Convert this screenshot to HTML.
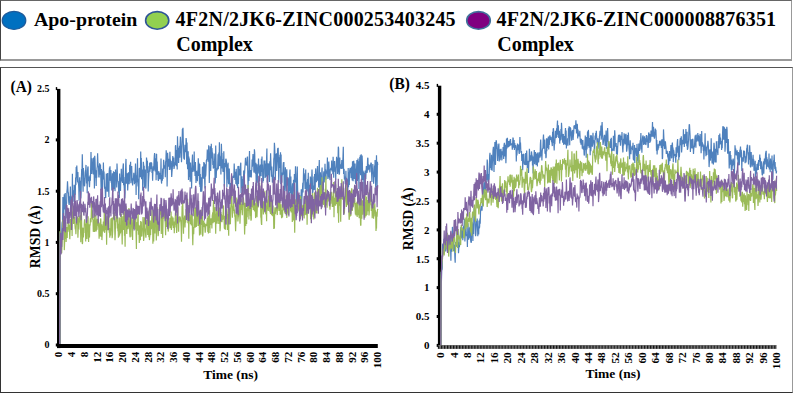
<!DOCTYPE html>
<html><head><meta charset="utf-8"><style>
html,body{margin:0;padding:0;background:#fff;width:793px;height:393px;overflow:hidden;position:relative}
.lg{position:absolute;left:0;top:0;width:792px;height:61px;box-sizing:border-box;border-top:1px solid #666;border-left:1px solid #444;border-right:1.5px solid #999;border-bottom:2px solid #999}
.fr{position:absolute;left:0;top:67px;width:793px;height:326px;box-sizing:border-box;border-top:1px solid #555;border-left:1px solid #333;border-right:1px solid #999;border-bottom:1px solid #333}
</style></head><body>
<div class="lg"></div><div class="fr"></div>
<svg width="793" height="393" viewBox="0 0 793 393" style="position:absolute;left:0;top:0">
<defs><pattern id="tk" x="441" y="0" width="3.03" height="10" patternUnits="userSpaceOnUse"><rect x="0" y="0" width="1.1" height="10" fill="#111"/></pattern></defs>
<ellipse cx="14" cy="20.4" rx="11.8" ry="9.1" fill="#0070C0" stroke="#1F5A9A" stroke-width="1.2"/>
<ellipse cx="157.2" cy="20.4" rx="11.6" ry="8.8" fill="#92D050" stroke="#2F5597" stroke-width="1.6"/>
<ellipse cx="478.5" cy="20.4" rx="11.8" ry="8.8" fill="#800080" stroke="#41719C" stroke-width="1.6"/>
<text font-family="&apos;Liberation Serif&apos;, serif" font-weight="bold" font-size="19.85" x="34" y="25.9">Apo-protein</text>
<text font-family="&apos;Liberation Serif&apos;, serif" font-weight="bold" font-size="20" x="175.6" y="25.9" textLength="280" lengthAdjust="spacing">4F2N/2JK6-ZINC000253403245</text>
<text font-family="&apos;Liberation Serif&apos;, serif" font-weight="bold" font-size="20" x="176.2" y="50.6">Complex</text>
<text font-family="&apos;Liberation Serif&apos;, serif" font-weight="bold" font-size="20" x="496.6" y="25.9" textLength="279.5" lengthAdjust="spacing">4F2N/2JK6-ZINC000008876351</text>
<text font-family="&apos;Liberation Serif&apos;, serif" font-weight="bold" font-size="20" x="497.2" y="50.6">Complex</text>
<text font-family="&apos;Liberation Serif&apos;, serif" font-weight="bold" font-size="15.4" transform="translate(10.5,91.8) scale(1,1.06)">(A)</text>
<rect x="57.0" y="88.9" width="3.4" height="259.2" fill="#000"/>
<rect x="55.8" y="343.5" width="1.4" height="3" fill="#000"/>
<text font-family="&apos;Liberation Serif&apos;, serif" font-weight="bold" font-size="10" x="49.5" y="348.4" text-anchor="end">0</text>
<rect x="55.8" y="292.2" width="1.4" height="3" fill="#000"/>
<text font-family="&apos;Liberation Serif&apos;, serif" font-weight="bold" font-size="10" x="49.5" y="297.1" text-anchor="end">0.5</text>
<rect x="55.8" y="240.9" width="1.4" height="3" fill="#000"/>
<text font-family="&apos;Liberation Serif&apos;, serif" font-weight="bold" font-size="10" x="49.5" y="245.8" text-anchor="end">1</text>
<rect x="55.8" y="189.7" width="1.4" height="3" fill="#000"/>
<text font-family="&apos;Liberation Serif&apos;, serif" font-weight="bold" font-size="10" x="49.5" y="194.6" text-anchor="end">1.5</text>
<rect x="55.8" y="138.4" width="1.4" height="3" fill="#000"/>
<text font-family="&apos;Liberation Serif&apos;, serif" font-weight="bold" font-size="10" x="49.5" y="143.3" text-anchor="end">2</text>
<rect x="55.8" y="87.1" width="1.4" height="3" fill="#000"/>
<text font-family="&apos;Liberation Serif&apos;, serif" font-weight="bold" font-size="10" x="49.5" y="92.0" text-anchor="end">2.5</text>
<text font-family="&apos;Liberation Serif&apos;, serif" font-weight="bold" font-size="11" text-anchor="end" dy="0.34em" transform="translate(58.7,351.8) rotate(-90)">0</text>
<text font-family="&apos;Liberation Serif&apos;, serif" font-weight="bold" font-size="11" text-anchor="end" dy="0.34em" transform="translate(71.4,351.8) rotate(-90)">4</text>
<text font-family="&apos;Liberation Serif&apos;, serif" font-weight="bold" font-size="11" text-anchor="end" dy="0.34em" transform="translate(84.2,351.8) rotate(-90)">8</text>
<text font-family="&apos;Liberation Serif&apos;, serif" font-weight="bold" font-size="11" text-anchor="end" dy="0.34em" transform="translate(96.9,351.8) rotate(-90)">12</text>
<text font-family="&apos;Liberation Serif&apos;, serif" font-weight="bold" font-size="11" text-anchor="end" dy="0.34em" transform="translate(109.7,351.8) rotate(-90)">16</text>
<text font-family="&apos;Liberation Serif&apos;, serif" font-weight="bold" font-size="11" text-anchor="end" dy="0.34em" transform="translate(122.4,351.8) rotate(-90)">20</text>
<text font-family="&apos;Liberation Serif&apos;, serif" font-weight="bold" font-size="11" text-anchor="end" dy="0.34em" transform="translate(135.2,351.8) rotate(-90)">24</text>
<text font-family="&apos;Liberation Serif&apos;, serif" font-weight="bold" font-size="11" text-anchor="end" dy="0.34em" transform="translate(147.9,351.8) rotate(-90)">28</text>
<text font-family="&apos;Liberation Serif&apos;, serif" font-weight="bold" font-size="11" text-anchor="end" dy="0.34em" transform="translate(160.7,351.8) rotate(-90)">32</text>
<text font-family="&apos;Liberation Serif&apos;, serif" font-weight="bold" font-size="11" text-anchor="end" dy="0.34em" transform="translate(173.4,351.8) rotate(-90)">36</text>
<text font-family="&apos;Liberation Serif&apos;, serif" font-weight="bold" font-size="11" text-anchor="end" dy="0.34em" transform="translate(186.2,351.8) rotate(-90)">40</text>
<text font-family="&apos;Liberation Serif&apos;, serif" font-weight="bold" font-size="11" text-anchor="end" dy="0.34em" transform="translate(198.9,351.8) rotate(-90)">44</text>
<text font-family="&apos;Liberation Serif&apos;, serif" font-weight="bold" font-size="11" text-anchor="end" dy="0.34em" transform="translate(211.7,351.8) rotate(-90)">48</text>
<text font-family="&apos;Liberation Serif&apos;, serif" font-weight="bold" font-size="11" text-anchor="end" dy="0.34em" transform="translate(224.4,351.8) rotate(-90)">52</text>
<text font-family="&apos;Liberation Serif&apos;, serif" font-weight="bold" font-size="11" text-anchor="end" dy="0.34em" transform="translate(237.2,351.8) rotate(-90)">56</text>
<text font-family="&apos;Liberation Serif&apos;, serif" font-weight="bold" font-size="11" text-anchor="end" dy="0.34em" transform="translate(249.9,351.8) rotate(-90)">60</text>
<text font-family="&apos;Liberation Serif&apos;, serif" font-weight="bold" font-size="11" text-anchor="end" dy="0.34em" transform="translate(262.7,351.8) rotate(-90)">64</text>
<text font-family="&apos;Liberation Serif&apos;, serif" font-weight="bold" font-size="11" text-anchor="end" dy="0.34em" transform="translate(275.4,351.8) rotate(-90)">68</text>
<text font-family="&apos;Liberation Serif&apos;, serif" font-weight="bold" font-size="11" text-anchor="end" dy="0.34em" transform="translate(288.2,351.8) rotate(-90)">72</text>
<text font-family="&apos;Liberation Serif&apos;, serif" font-weight="bold" font-size="11" text-anchor="end" dy="0.34em" transform="translate(300.9,351.8) rotate(-90)">76</text>
<text font-family="&apos;Liberation Serif&apos;, serif" font-weight="bold" font-size="11" text-anchor="end" dy="0.34em" transform="translate(313.7,351.8) rotate(-90)">80</text>
<text font-family="&apos;Liberation Serif&apos;, serif" font-weight="bold" font-size="11" text-anchor="end" dy="0.34em" transform="translate(326.4,351.8) rotate(-90)">84</text>
<text font-family="&apos;Liberation Serif&apos;, serif" font-weight="bold" font-size="11" text-anchor="end" dy="0.34em" transform="translate(339.2,351.8) rotate(-90)">88</text>
<text font-family="&apos;Liberation Serif&apos;, serif" font-weight="bold" font-size="11" text-anchor="end" dy="0.34em" transform="translate(351.9,351.8) rotate(-90)">92</text>
<text font-family="&apos;Liberation Serif&apos;, serif" font-weight="bold" font-size="11" text-anchor="end" dy="0.34em" transform="translate(364.7,351.8) rotate(-90)">96</text>
<text font-family="&apos;Liberation Serif&apos;, serif" font-weight="bold" font-size="11" text-anchor="end" dy="0.34em" transform="translate(377.4,351.8) rotate(-90)">100</text>
<text font-family="&apos;Liberation Serif&apos;, serif" font-weight="bold" font-size="13.7" text-anchor="middle" transform="translate(39.5,236.8) rotate(-90)">RMSD (Å)</text>
<text font-family="&apos;Liberation Serif&apos;, serif" font-weight="bold" font-size="13.5" x="203.2" y="378.7">Time (ns)</text>
<text font-family="&apos;Liberation Serif&apos;, serif" font-weight="bold" font-size="15.4" transform="translate(389.3,88.9) scale(1,1.06)">(B)</text>
<rect x="437.9" y="85.7" width="3.4" height="262.8" fill="#000"/>
<rect x="436.7" y="343.9" width="1.4" height="3" fill="#000"/>
<text font-family="&apos;Liberation Serif&apos;, serif" font-weight="bold" font-size="11" x="429.6" y="349.1" text-anchor="end">0</text>
<rect x="436.7" y="315.0" width="1.4" height="3" fill="#000"/>
<text font-family="&apos;Liberation Serif&apos;, serif" font-weight="bold" font-size="11" x="429.6" y="320.3" text-anchor="end">0.5</text>
<rect x="436.7" y="286.1" width="1.4" height="3" fill="#000"/>
<text font-family="&apos;Liberation Serif&apos;, serif" font-weight="bold" font-size="11" x="429.6" y="291.4" text-anchor="end">1</text>
<rect x="436.7" y="257.2" width="1.4" height="3" fill="#000"/>
<text font-family="&apos;Liberation Serif&apos;, serif" font-weight="bold" font-size="11" x="429.6" y="262.5" text-anchor="end">1.5</text>
<rect x="436.7" y="228.4" width="1.4" height="3" fill="#000"/>
<text font-family="&apos;Liberation Serif&apos;, serif" font-weight="bold" font-size="11" x="429.6" y="233.6" text-anchor="end">2</text>
<rect x="436.7" y="199.5" width="1.4" height="3" fill="#000"/>
<text font-family="&apos;Liberation Serif&apos;, serif" font-weight="bold" font-size="11" x="429.6" y="204.7" text-anchor="end">2.5</text>
<rect x="436.7" y="170.6" width="1.4" height="3" fill="#000"/>
<text font-family="&apos;Liberation Serif&apos;, serif" font-weight="bold" font-size="11" x="429.6" y="175.8" text-anchor="end">3</text>
<rect x="436.7" y="141.7" width="1.4" height="3" fill="#000"/>
<text font-family="&apos;Liberation Serif&apos;, serif" font-weight="bold" font-size="11" x="429.6" y="146.9" text-anchor="end">3.5</text>
<rect x="436.7" y="112.8" width="1.4" height="3" fill="#000"/>
<text font-family="&apos;Liberation Serif&apos;, serif" font-weight="bold" font-size="11" x="429.6" y="118.1" text-anchor="end">4</text>
<rect x="436.7" y="83.9" width="1.4" height="3" fill="#000"/>
<text font-family="&apos;Liberation Serif&apos;, serif" font-weight="bold" font-size="11" x="429.6" y="89.2" text-anchor="end">4.5</text>
<text font-family="&apos;Liberation Serif&apos;, serif" font-weight="bold" font-size="11.3" text-anchor="end" dy="0.34em" transform="translate(440.3,352.3) rotate(-90)">0</text>
<text font-family="&apos;Liberation Serif&apos;, serif" font-weight="bold" font-size="11.3" text-anchor="end" dy="0.34em" transform="translate(453.7,352.3) rotate(-90)">4</text>
<text font-family="&apos;Liberation Serif&apos;, serif" font-weight="bold" font-size="11.3" text-anchor="end" dy="0.34em" transform="translate(467.2,352.3) rotate(-90)">8</text>
<text font-family="&apos;Liberation Serif&apos;, serif" font-weight="bold" font-size="11.3" text-anchor="end" dy="0.34em" transform="translate(480.6,352.3) rotate(-90)">12</text>
<text font-family="&apos;Liberation Serif&apos;, serif" font-weight="bold" font-size="11.3" text-anchor="end" dy="0.34em" transform="translate(494.1,352.3) rotate(-90)">16</text>
<text font-family="&apos;Liberation Serif&apos;, serif" font-weight="bold" font-size="11.3" text-anchor="end" dy="0.34em" transform="translate(507.5,352.3) rotate(-90)">20</text>
<text font-family="&apos;Liberation Serif&apos;, serif" font-weight="bold" font-size="11.3" text-anchor="end" dy="0.34em" transform="translate(521.0,352.3) rotate(-90)">24</text>
<text font-family="&apos;Liberation Serif&apos;, serif" font-weight="bold" font-size="11.3" text-anchor="end" dy="0.34em" transform="translate(534.4,352.3) rotate(-90)">28</text>
<text font-family="&apos;Liberation Serif&apos;, serif" font-weight="bold" font-size="11.3" text-anchor="end" dy="0.34em" transform="translate(547.9,352.3) rotate(-90)">32</text>
<text font-family="&apos;Liberation Serif&apos;, serif" font-weight="bold" font-size="11.3" text-anchor="end" dy="0.34em" transform="translate(561.3,352.3) rotate(-90)">36</text>
<text font-family="&apos;Liberation Serif&apos;, serif" font-weight="bold" font-size="11.3" text-anchor="end" dy="0.34em" transform="translate(574.7,352.3) rotate(-90)">40</text>
<text font-family="&apos;Liberation Serif&apos;, serif" font-weight="bold" font-size="11.3" text-anchor="end" dy="0.34em" transform="translate(588.2,352.3) rotate(-90)">44</text>
<text font-family="&apos;Liberation Serif&apos;, serif" font-weight="bold" font-size="11.3" text-anchor="end" dy="0.34em" transform="translate(601.6,352.3) rotate(-90)">48</text>
<text font-family="&apos;Liberation Serif&apos;, serif" font-weight="bold" font-size="11.3" text-anchor="end" dy="0.34em" transform="translate(615.1,352.3) rotate(-90)">52</text>
<text font-family="&apos;Liberation Serif&apos;, serif" font-weight="bold" font-size="11.3" text-anchor="end" dy="0.34em" transform="translate(628.5,352.3) rotate(-90)">56</text>
<text font-family="&apos;Liberation Serif&apos;, serif" font-weight="bold" font-size="11.3" text-anchor="end" dy="0.34em" transform="translate(642.0,352.3) rotate(-90)">60</text>
<text font-family="&apos;Liberation Serif&apos;, serif" font-weight="bold" font-size="11.3" text-anchor="end" dy="0.34em" transform="translate(655.4,352.3) rotate(-90)">64</text>
<text font-family="&apos;Liberation Serif&apos;, serif" font-weight="bold" font-size="11.3" text-anchor="end" dy="0.34em" transform="translate(668.8,352.3) rotate(-90)">68</text>
<text font-family="&apos;Liberation Serif&apos;, serif" font-weight="bold" font-size="11.3" text-anchor="end" dy="0.34em" transform="translate(682.3,352.3) rotate(-90)">72</text>
<text font-family="&apos;Liberation Serif&apos;, serif" font-weight="bold" font-size="11.3" text-anchor="end" dy="0.34em" transform="translate(695.7,352.3) rotate(-90)">76</text>
<text font-family="&apos;Liberation Serif&apos;, serif" font-weight="bold" font-size="11.3" text-anchor="end" dy="0.34em" transform="translate(709.2,352.3) rotate(-90)">80</text>
<text font-family="&apos;Liberation Serif&apos;, serif" font-weight="bold" font-size="11.3" text-anchor="end" dy="0.34em" transform="translate(722.6,352.3) rotate(-90)">84</text>
<text font-family="&apos;Liberation Serif&apos;, serif" font-weight="bold" font-size="11.3" text-anchor="end" dy="0.34em" transform="translate(736.1,352.3) rotate(-90)">88</text>
<text font-family="&apos;Liberation Serif&apos;, serif" font-weight="bold" font-size="11.3" text-anchor="end" dy="0.34em" transform="translate(749.5,352.3) rotate(-90)">92</text>
<text font-family="&apos;Liberation Serif&apos;, serif" font-weight="bold" font-size="11.3" text-anchor="end" dy="0.34em" transform="translate(763.0,352.3) rotate(-90)">96</text>
<text font-family="&apos;Liberation Serif&apos;, serif" font-weight="bold" font-size="11.3" text-anchor="end" dy="0.34em" transform="translate(776.4,352.3) rotate(-90)">100</text>
<text font-family="&apos;Liberation Serif&apos;, serif" font-weight="bold" font-size="13.7" text-anchor="middle" transform="translate(412.5,218.8) rotate(-90)">RMSD (Å)</text>
<text font-family="&apos;Liberation Serif&apos;, serif" font-weight="bold" font-size="13.5" x="585.6" y="378.1">Time (ns)</text>
<polyline fill="none" stroke="#4F81BD" stroke-width="1.2" stroke-linejoin="bevel" points="59.7,345.0 60.0,231.9 60.3,234.1 60.6,235.4 60.9,240.5 61.1,245.5 61.4,235.7 61.7,232.7 62.0,223.8 62.3,221.7 62.6,222.4 62.9,196.9 63.2,206.2 63.5,198.7 63.8,216.4 64.0,201.4 64.3,194.4 64.6,197.4 64.9,209.6 65.2,193.1 65.5,204.6 65.8,215.0 66.1,218.3 66.4,203.6 66.6,203.7 66.9,191.8 67.2,188.7 67.5,181.3 67.8,187.1 68.1,192.2 68.4,193.5 68.7,201.4 69.0,204.3 69.2,204.9 69.5,196.2 69.8,203.1 70.1,198.0 70.4,186.4 70.7,213.2 71.0,206.3 71.3,205.3 71.6,196.6 71.9,206.1 72.1,201.9 72.4,173.7 72.7,197.1 73.0,193.0 73.3,190.3 73.6,193.5 73.9,201.7 74.2,184.8 74.5,204.9 74.7,201.6 75.0,194.5 75.3,194.7 75.6,177.6 75.9,185.1 76.2,166.9 76.5,177.7 76.8,165.6 77.1,172.2 77.4,180.0 77.6,182.2 77.9,171.9 78.2,183.5 78.5,182.6 78.8,188.4 79.1,200.7 79.4,182.6 79.7,177.2 80.0,191.5 80.2,180.7 80.5,183.6 80.8,198.4 81.1,193.4 81.4,177.6 81.7,169.0 82.0,172.8 82.3,154.2 82.6,168.5 82.8,181.9 83.1,191.7 83.4,167.9 83.7,177.5 84.0,179.0 84.3,184.7 84.6,186.3 84.9,182.0 85.2,172.9 85.5,170.4 85.7,170.0 86.0,164.9 86.3,175.9 86.6,183.5 86.9,176.5 87.2,193.2 87.5,171.1 87.8,167.4 88.1,166.5 88.3,180.4 88.6,181.0 88.9,176.4 89.2,183.9 89.5,187.3 89.8,180.5 90.1,175.2 90.4,180.7 90.7,166.5 91.0,151.9 91.2,162.1 91.5,171.4 91.8,173.9 92.1,158.2 92.4,164.6 92.7,165.1 93.0,167.2 93.3,174.6 93.6,157.5 93.8,168.3 94.1,168.8 94.4,188.4 94.7,155.7 95.0,159.2 95.3,168.7 95.6,177.0 95.9,178.1 96.2,186.1 96.4,170.3 96.7,177.7 97.0,168.4 97.3,166.5 97.6,153.2 97.9,162.9 98.2,166.2 98.5,166.1 98.8,177.3 99.1,177.0 99.3,171.9 99.6,163.3 99.9,165.1 100.2,174.7 100.5,164.6 100.8,176.7 101.1,190.3 101.4,169.1 101.7,177.3 101.9,184.2 102.2,193.3 102.5,190.4 102.8,170.5 103.1,179.6 103.4,162.4 103.7,177.0 104.0,171.4 104.3,179.5 104.5,187.0 104.8,188.8 105.1,186.8 105.4,195.6 105.7,198.1 106.0,184.9 106.3,173.6 106.6,180.3 106.9,182.8 107.2,191.7 107.4,176.0 107.7,173.1 108.0,191.5 108.3,185.7 108.6,186.7 108.9,196.9 109.2,172.0 109.5,167.5 109.8,173.4 110.0,166.2 110.3,180.8 110.6,178.7 110.9,170.1 111.2,182.7 111.5,179.1 111.8,190.5 112.1,180.9 112.4,173.3 112.7,188.5 112.9,191.7 113.2,185.9 113.5,171.3 113.8,183.8 114.1,189.3 114.4,184.3 114.7,172.0 115.0,191.1 115.3,184.3 115.5,169.6 115.8,176.8 116.1,181.0 116.4,172.8 116.7,187.6 117.0,163.6 117.3,170.7 117.6,181.6 117.9,181.3 118.1,181.1 118.4,184.2 118.7,192.8 119.0,187.1 119.3,197.9 119.6,173.4 119.9,188.9 120.2,190.1 120.5,190.9 120.8,177.6 121.0,181.8 121.3,168.8 121.6,181.0 121.9,178.5 122.2,179.5 122.5,182.9 122.8,170.6 123.1,165.9 123.4,163.4 123.6,185.2 123.9,177.0 124.2,187.5 124.5,191.5 124.8,198.5 125.1,193.3 125.4,176.8 125.7,165.0 126.0,158.9 126.3,178.7 126.5,183.7 126.8,176.6 127.1,174.7 127.4,173.3 127.7,190.6 128.0,182.1 128.3,173.0 128.6,172.4 128.9,177.5 129.1,184.2 129.4,180.4 129.7,164.7 130.0,170.9 130.3,167.6 130.6,161.7 130.9,183.3 131.2,173.4 131.5,172.4 131.7,166.0 132.0,177.5 132.3,181.3 132.6,185.5 132.9,178.3 133.2,180.3 133.5,178.3 133.8,172.7 134.1,177.2 134.4,184.2 134.6,181.4 134.9,182.8 135.2,173.5 135.5,163.6 135.8,173.5 136.1,195.1 136.4,176.4 136.7,175.4 137.0,182.3 137.2,177.2 137.5,158.2 137.8,182.4 138.1,186.5 138.4,178.8 138.7,199.2 139.0,187.2 139.3,168.7 139.6,168.0 139.9,169.8 140.1,176.7 140.4,177.0 140.7,151.4 141.0,164.4 141.3,158.1 141.6,179.3 141.9,172.3 142.2,169.6 142.5,171.6 142.7,190.8 143.0,181.9 143.3,161.8 143.6,164.2 143.9,176.6 144.2,165.8 144.5,187.8 144.8,172.4 145.1,169.6 145.3,176.6 145.6,182.1 145.9,188.6 146.2,177.9 146.5,157.5 146.8,160.5 147.1,165.2 147.4,160.7 147.7,173.0 148.0,166.2 148.2,191.6 148.5,181.4 148.8,176.6 149.1,171.7 149.4,170.1 149.7,162.8 150.0,171.7 150.3,162.3 150.6,169.3 150.8,162.6 151.1,168.5 151.4,162.3 151.7,163.5 152.0,172.9 152.3,168.8 152.6,180.7 152.9,172.0 153.2,166.4 153.5,170.4 153.7,170.0 154.0,161.8 154.3,156.1 154.6,153.1 154.9,168.8 155.2,171.5 155.5,162.6 155.8,158.2 156.1,180.3 156.3,154.3 156.6,153.9 156.9,174.7 157.2,161.5 157.5,171.2 157.8,171.2 158.1,179.1 158.4,181.0 158.7,177.7 158.9,171.2 159.2,179.1 159.5,172.7 159.8,176.9 160.1,176.4 160.4,179.3 160.7,178.4 161.0,158.6 161.3,180.4 161.6,183.6 161.8,175.7 162.1,175.7 162.4,180.7 162.7,168.5 163.0,179.0 163.3,171.5 163.6,159.7 163.9,162.2 164.2,168.5 164.4,168.0 164.7,167.7 165.0,165.3 165.3,177.2 165.6,161.8 165.9,160.6 166.2,150.3 166.5,156.2 166.8,155.3 167.1,186.4 167.3,176.6 167.6,152.7 167.9,158.4 168.2,166.8 168.5,158.7 168.8,162.7 169.1,160.9 169.4,170.1 169.7,162.0 169.9,151.8 170.2,159.8 170.5,159.9 170.8,169.7 171.1,161.0 171.4,166.9 171.7,177.0 172.0,172.0 172.3,168.8 172.5,161.0 172.8,156.1 173.1,163.7 173.4,166.4 173.7,157.4 174.0,169.0 174.3,167.0 174.6,163.8 174.9,162.4 175.2,165.1 175.4,146.2 175.7,145.3 176.0,154.2 176.3,166.2 176.6,161.5 176.9,149.9 177.2,169.6 177.5,136.2 177.8,148.9 178.0,152.2 178.3,147.8 178.6,163.1 178.9,155.3 179.2,152.5 179.5,145.7 179.8,157.7 180.1,145.1 180.4,136.7 180.6,141.0 180.9,149.3 181.2,153.6 181.5,162.3 181.8,154.3 182.1,141.7 182.4,129.0 182.7,129.1 183.0,127.8 183.3,141.7 183.5,147.3 183.8,158.8 184.1,155.2 184.4,159.8 184.7,153.1 185.0,144.7 185.3,149.2 185.6,152.2 185.9,145.8 186.1,138.0 186.4,140.5 186.7,164.3 187.0,142.4 187.3,156.5 187.6,169.2 187.9,164.3 188.2,151.3 188.5,180.1 188.8,156.6 189.0,159.7 189.3,158.6 189.6,176.8 189.9,176.0 190.2,181.7 190.5,162.6 190.8,174.2 191.1,167.8 191.4,175.9 191.6,188.5 191.9,169.3 192.2,160.6 192.5,154.6 192.8,171.4 193.1,171.4 193.4,165.5 193.7,167.8 194.0,170.1 194.2,151.4 194.5,171.4 194.8,165.7 195.1,176.0 195.4,162.0 195.7,172.4 196.0,183.0 196.3,170.8 196.6,173.6 196.9,177.9 197.1,177.7 197.4,181.3 197.7,171.1 198.0,169.8 198.3,158.2 198.6,176.0 198.9,162.7 199.2,167.0 199.5,184.4 199.7,163.9 200.0,186.9 200.3,174.0 200.6,191.7 200.9,178.0 201.2,178.5 201.5,177.3 201.8,191.7 202.1,185.7 202.4,168.0 202.6,166.5 202.9,172.4 203.2,173.5 203.5,178.8 203.8,162.1 204.1,169.8 204.4,162.7 204.7,182.0 205.0,188.5 205.2,164.3 205.5,176.7 205.8,174.6 206.1,167.3 206.4,160.5 206.7,159.3 207.0,159.6 207.3,149.5 207.6,158.5 207.8,155.2 208.1,161.6 208.4,160.9 208.7,145.2 209.0,158.4 209.3,182.9 209.6,167.4 209.9,163.2 210.2,146.3 210.5,159.4 210.7,171.0 211.0,162.0 211.3,143.8 211.6,158.6 211.9,148.0 212.2,152.6 212.5,152.8 212.8,165.1 213.1,161.0 213.3,168.6 213.6,162.4 213.9,168.0 214.2,153.6 214.5,164.2 214.8,164.8 215.1,183.4 215.4,179.0 215.7,145.5 216.0,161.8 216.2,178.0 216.5,170.4 216.8,169.3 217.1,170.5 217.4,168.2 217.7,167.4 218.0,154.2 218.3,169.3 218.6,161.4 218.8,152.6 219.1,166.2 219.4,142.3 219.7,155.9 220.0,161.4 220.3,166.0 220.6,156.3 220.9,174.6 221.2,163.0 221.4,143.7 221.7,154.8 222.0,153.1 222.3,168.6 222.6,159.2 222.9,171.3 223.2,171.6 223.5,168.1 223.8,151.2 224.1,168.4 224.3,186.4 224.6,173.0 224.9,163.9 225.2,163.4 225.5,167.1 225.8,158.7 226.1,159.5 226.4,161.1 226.7,174.0 226.9,187.1 227.2,164.2 227.5,179.4 227.8,165.0 228.1,162.7 228.4,182.7 228.7,184.1 229.0,175.8 229.3,168.6 229.6,183.2 229.8,182.9 230.1,189.8 230.4,193.5 230.7,182.9 231.0,184.3 231.3,199.7 231.6,182.1 231.9,183.4 232.2,182.8 232.4,191.6 232.7,176.6 233.0,176.6 233.3,175.8 233.6,178.0 233.9,175.6 234.2,163.4 234.5,171.7 234.8,173.1 235.0,180.1 235.3,171.7 235.6,177.3 235.9,184.0 236.2,168.9 236.5,175.7 236.8,184.7 237.1,185.4 237.4,182.5 237.7,188.1 237.9,166.2 238.2,166.5 238.5,183.9 238.8,166.1 239.1,174.5 239.4,170.2 239.7,175.4 240.0,169.5 240.3,169.3 240.5,165.0 240.8,162.7 241.1,193.3 241.4,184.3 241.7,176.7 242.0,176.3 242.3,187.9 242.6,183.2 242.9,179.1 243.2,192.7 243.4,187.0 243.7,170.6 244.0,178.3 244.3,175.5 244.6,172.8 244.9,167.2 245.2,164.0 245.5,157.8 245.8,162.5 246.0,163.3 246.3,165.1 246.6,163.5 246.9,165.6 247.2,157.4 247.5,156.6 247.8,175.6 248.1,188.7 248.4,170.5 248.6,171.8 248.9,181.1 249.2,161.9 249.5,150.9 249.8,172.0 250.1,177.2 250.4,175.7 250.7,175.9 251.0,170.1 251.3,177.5 251.5,170.4 251.8,170.6 252.1,159.4 252.4,166.6 252.7,160.3 253.0,154.0 253.3,161.5 253.6,163.1 253.9,172.6 254.1,170.0 254.4,149.3 254.7,152.5 255.0,165.3 255.3,173.0 255.6,173.4 255.9,162.7 256.2,186.9 256.5,175.3 256.8,185.8 257.0,164.3 257.3,182.7 257.6,167.4 257.9,173.6 258.2,172.8 258.5,158.6 258.8,168.8 259.1,165.9 259.4,168.2 259.6,181.5 259.9,175.0 260.2,164.6 260.5,166.5 260.8,167.7 261.1,176.3 261.4,158.8 261.7,172.0 262.0,156.4 262.2,166.8 262.5,164.6 262.8,182.7 263.1,173.7 263.4,181.1 263.7,173.3 264.0,160.5 264.3,163.1 264.6,165.9 264.9,160.5 265.1,178.0 265.4,171.6 265.7,176.9 266.0,163.6 266.3,176.5 266.6,157.6 266.9,148.5 267.2,182.5 267.5,175.6 267.7,186.0 268.0,163.2 268.3,175.3 268.6,165.5 268.9,163.5 269.2,173.7 269.5,181.9 269.8,161.2 270.1,170.1 270.3,165.4 270.6,153.3 270.9,163.0 271.2,168.6 271.5,176.7 271.8,166.5 272.1,174.3 272.4,182.4 272.7,176.0 273.0,175.4 273.2,182.9 273.5,173.0 273.8,159.0 274.1,157.0 274.4,142.8 274.7,147.2 275.0,157.2 275.3,180.3 275.6,166.4 275.8,154.1 276.1,164.9 276.4,153.2 276.7,171.0 277.0,166.1 277.3,159.6 277.6,148.3 277.9,161.2 278.2,147.7 278.5,165.2 278.7,182.7 279.0,174.4 279.3,157.3 279.6,168.1 279.9,154.8 280.2,167.1 280.5,152.2 280.8,183.9 281.1,154.5 281.3,184.4 281.6,175.7 281.9,182.7 282.2,172.5 282.5,174.7 282.8,174.6 283.1,166.4 283.4,162.3 283.7,172.4 283.9,162.1 284.2,186.4 284.5,188.5 284.8,191.0 285.1,175.8 285.4,167.2 285.7,177.2 286.0,183.7 286.3,191.3 286.6,176.2 286.8,169.2 287.1,182.4 287.4,183.4 287.7,185.6 288.0,182.8 288.3,177.5 288.6,200.8 288.9,192.8 289.2,179.1 289.4,191.3 289.7,174.7 290.0,169.5 290.3,188.9 290.6,193.2 290.9,176.5 291.2,198.3 291.5,200.6 291.8,206.5 292.1,193.9 292.3,186.7 292.6,183.4 292.9,185.1 293.2,199.2 293.5,179.8 293.8,186.7 294.1,191.3 294.4,173.9 294.7,181.6 294.9,182.5 295.2,178.1 295.5,166.3 295.8,180.9 296.1,179.5 296.4,207.3 296.7,203.5 297.0,174.9 297.3,166.5 297.5,183.6 297.8,196.0 298.1,204.2 298.4,205.9 298.7,200.4 299.0,210.8 299.3,198.9 299.6,195.0 299.9,204.1 300.2,207.9 300.4,207.6 300.7,202.1 301.0,198.3 301.3,189.3 301.6,208.2 301.9,199.3 302.2,193.1 302.5,188.7 302.8,182.9 303.0,192.5 303.3,181.9 303.6,168.2 303.9,180.2 304.2,173.3 304.5,176.7 304.8,181.8 305.1,188.9 305.4,186.9 305.7,169.5 305.9,181.4 306.2,192.5 306.5,193.6 306.8,182.2 307.1,191.4 307.4,181.2 307.7,179.2 308.0,183.1 308.3,172.8 308.5,197.2 308.8,195.8 309.1,192.1 309.4,184.8 309.7,198.9 310.0,194.7 310.3,176.4 310.6,186.8 310.9,177.6 311.1,184.1 311.4,189.2 311.7,179.3 312.0,169.5 312.3,179.4 312.6,192.9 312.9,191.5 313.2,188.1 313.5,185.5 313.8,190.1 314.0,176.5 314.3,188.0 314.6,174.1 314.9,188.2 315.2,190.1 315.5,172.0 315.8,168.4 316.1,177.1 316.4,182.3 316.6,180.1 316.9,176.6 317.2,174.3 317.5,166.0 317.8,180.8 318.1,176.4 318.4,175.2 318.7,187.5 319.0,169.3 319.3,159.9 319.5,171.9 319.8,191.9 320.1,189.3 320.4,172.3 320.7,193.7 321.0,201.1 321.3,189.6 321.6,176.8 321.9,170.3 322.1,167.5 322.4,197.4 322.7,188.8 323.0,190.1 323.3,189.3 323.6,173.8 323.9,171.4 324.2,182.4 324.5,176.9 324.7,175.1 325.0,163.7 325.3,176.7 325.6,169.3 325.9,179.7 326.2,172.6 326.5,173.7 326.8,170.6 327.1,171.4 327.4,157.5 327.6,173.7 327.9,178.9 328.2,177.5 328.5,167.2 328.8,161.6 329.1,168.3 329.4,176.7 329.7,177.7 330.0,180.1 330.2,169.2 330.5,170.5 330.8,167.8 331.1,169.3 331.4,169.5 331.7,160.5 332.0,171.4 332.3,167.4 332.6,165.4 332.9,174.3 333.1,156.7 333.4,163.8 333.7,177.7 334.0,164.1 334.3,163.6 334.6,161.1 334.9,167.8 335.2,171.9 335.5,168.2 335.7,179.4 336.0,168.7 336.3,165.7 336.6,156.7 336.9,163.5 337.2,158.2 337.5,173.9 337.8,171.7 338.1,157.4 338.3,146.7 338.6,148.3 338.9,170.6 339.2,174.6 339.5,173.3 339.8,157.5 340.1,168.4 340.4,165.9 340.7,164.7 341.0,164.3 341.2,169.0 341.5,166.2 341.8,160.1 342.1,164.9 342.4,168.8 342.7,163.3 343.0,156.5 343.3,146.8 343.6,174.0 343.8,169.1 344.1,168.9 344.4,179.6 344.7,176.5 345.0,179.1 345.3,184.3 345.6,182.1 345.9,170.7 346.2,181.8 346.4,180.8 346.7,178.5 347.0,184.2 347.3,187.6 347.6,194.1 347.9,188.6 348.2,168.0 348.5,187.3 348.8,172.3 349.1,182.9 349.3,185.1 349.6,171.0 349.9,169.0 350.2,168.0 350.5,173.1 350.8,167.8 351.1,178.1 351.4,173.7 351.7,166.4 351.9,172.3 352.2,180.4 352.5,161.3 352.8,171.9 353.1,181.3 353.4,170.3 353.7,160.7 354.0,164.2 354.3,178.9 354.6,170.9 354.8,167.6 355.1,163.4 355.4,180.9 355.7,184.1 356.0,172.3 356.3,170.7 356.6,167.2 356.9,159.9 357.2,178.0 357.4,180.9 357.7,177.2 358.0,158.6 358.3,167.9 358.6,161.2 358.9,189.1 359.2,175.5 359.5,164.7 359.8,157.1 360.0,173.2 360.3,155.3 360.6,175.3 360.9,160.4 361.2,154.3 361.5,167.0 361.8,182.6 362.1,155.6 362.4,163.4 362.7,179.9 362.9,170.4 363.2,179.6 363.5,171.5 363.8,180.6 364.1,193.5 364.4,173.0 364.7,177.3 365.0,173.1 365.3,170.5 365.5,171.9 365.8,179.2 366.1,170.8 366.4,166.1 366.7,167.9 367.0,173.0 367.3,171.1 367.6,158.6 367.9,157.8 368.2,170.1 368.4,165.6 368.7,164.7 369.0,164.9 369.3,169.2 369.6,167.6 369.9,172.4 370.2,165.2 370.5,165.3 370.8,163.8 371.0,162.7 371.3,163.3 371.6,173.7 371.9,182.0 372.2,171.6 372.5,173.6 372.8,163.9 373.1,172.0 373.4,174.4 373.6,183.7 373.9,175.9 374.2,177.3 374.5,165.5 374.8,170.8 375.1,160.0 375.4,176.2 375.7,187.8 376.0,165.5 376.3,164.5 376.5,155.2 376.8,172.0 377.1,186.0 377.4,161.8 377.7,165.0"/>
<polyline fill="none" stroke="#9BBB59" stroke-width="1.2" stroke-linejoin="bevel" points="59.7,345.0 60.0,231.1 60.3,243.6 60.6,240.9 60.9,245.1 61.1,253.4 61.4,247.2 61.7,253.2 62.0,245.6 62.3,236.4 62.6,227.6 62.9,219.8 63.2,231.2 63.5,230.1 63.8,227.5 64.0,225.5 64.3,250.1 64.6,243.0 64.9,227.3 65.2,239.0 65.5,230.0 65.8,222.2 66.1,242.1 66.4,233.4 66.6,227.9 66.9,227.0 67.2,238.0 67.5,227.1 67.8,232.1 68.1,222.5 68.4,221.7 68.7,229.4 69.0,224.6 69.2,229.9 69.5,231.6 69.8,239.3 70.1,230.7 70.4,218.8 70.7,222.0 71.0,224.2 71.3,229.7 71.6,229.2 71.9,219.5 72.1,235.9 72.4,211.4 72.7,220.9 73.0,205.5 73.3,208.2 73.6,224.0 73.9,217.8 74.2,219.5 74.5,219.6 74.7,216.5 75.0,225.8 75.3,229.5 75.6,228.2 75.9,234.2 76.2,227.3 76.5,221.4 76.8,220.1 77.1,219.6 77.4,224.7 77.6,216.6 77.9,237.8 78.2,230.0 78.5,228.1 78.8,218.3 79.1,218.8 79.4,216.3 79.7,222.4 80.0,215.3 80.2,229.8 80.5,225.8 80.8,242.3 81.1,215.6 81.4,209.5 81.7,226.3 82.0,231.9 82.3,244.1 82.6,242.8 82.8,229.0 83.1,227.7 83.4,237.4 83.7,232.5 84.0,233.0 84.3,223.6 84.6,219.4 84.9,225.5 85.2,223.7 85.5,225.1 85.7,241.6 86.0,228.5 86.3,226.3 86.6,219.5 86.9,239.0 87.2,223.1 87.5,230.3 87.8,225.3 88.1,216.3 88.3,236.3 88.6,241.9 88.9,224.2 89.2,236.2 89.5,237.6 89.8,224.7 90.1,225.8 90.4,218.3 90.7,220.4 91.0,222.3 91.2,215.7 91.5,202.7 91.8,218.8 92.1,210.0 92.4,211.8 92.7,219.7 93.0,219.5 93.3,231.7 93.6,231.2 93.8,223.5 94.1,224.0 94.4,213.5 94.7,231.9 95.0,229.1 95.3,230.6 95.6,226.5 95.9,215.1 96.2,231.6 96.4,219.8 96.7,229.1 97.0,229.7 97.3,218.8 97.6,225.6 97.9,218.9 98.2,222.4 98.5,225.3 98.8,228.1 99.1,238.7 99.3,234.3 99.6,225.0 99.9,222.7 100.2,236.6 100.5,219.6 100.8,218.5 101.1,233.4 101.4,236.9 101.7,224.2 101.9,240.1 102.2,234.9 102.5,228.2 102.8,225.9 103.1,226.0 103.4,221.6 103.7,231.0 104.0,231.3 104.3,210.1 104.5,232.8 104.8,231.3 105.1,225.7 105.4,230.0 105.7,216.0 106.0,222.3 106.3,218.8 106.6,244.7 106.9,223.4 107.2,216.2 107.4,230.2 107.7,217.3 108.0,221.3 108.3,216.7 108.6,207.9 108.9,220.2 109.2,232.7 109.5,227.9 109.8,237.7 110.0,235.7 110.3,234.6 110.6,235.4 110.9,219.4 111.2,218.3 111.5,231.2 111.8,217.8 112.1,238.2 112.4,236.1 112.7,230.9 112.9,218.4 113.2,217.2 113.5,218.9 113.8,212.7 114.1,215.2 114.4,212.2 114.7,228.5 115.0,240.3 115.3,233.5 115.5,221.6 115.8,222.1 116.1,215.7 116.4,215.6 116.7,218.0 117.0,214.9 117.3,228.5 117.6,216.7 117.9,231.2 118.1,227.3 118.4,237.8 118.7,223.8 119.0,236.8 119.3,217.4 119.6,235.6 119.9,227.4 120.2,227.2 120.5,233.5 120.8,217.6 121.0,227.0 121.3,213.4 121.6,230.0 121.9,233.0 122.2,244.6 122.5,225.8 122.8,216.3 123.1,220.6 123.4,223.1 123.6,230.1 123.9,205.6 124.2,212.9 124.5,235.7 124.8,229.5 125.1,246.8 125.4,218.9 125.7,205.9 126.0,207.0 126.3,220.1 126.5,226.3 126.8,234.0 127.1,220.0 127.4,227.0 127.7,225.5 128.0,229.2 128.3,226.9 128.6,216.8 128.9,208.0 129.1,219.0 129.4,222.6 129.7,233.2 130.0,237.2 130.3,236.4 130.6,220.7 130.9,222.0 131.2,217.4 131.5,220.3 131.7,227.3 132.0,236.7 132.3,231.6 132.6,239.9 132.9,213.8 133.2,220.8 133.5,228.9 133.8,209.8 134.1,223.7 134.4,220.7 134.6,226.1 134.9,223.2 135.2,229.4 135.5,223.3 135.8,214.6 136.1,234.4 136.4,248.9 136.7,223.3 137.0,226.3 137.2,222.1 137.5,230.7 137.8,218.0 138.1,211.8 138.4,234.7 138.7,224.8 139.0,232.2 139.3,243.1 139.6,234.7 139.9,225.4 140.1,237.5 140.4,240.3 140.7,221.1 141.0,224.4 141.3,221.8 141.6,236.1 141.9,236.2 142.2,229.8 142.5,228.5 142.7,228.7 143.0,216.9 143.3,224.6 143.6,241.0 143.9,238.3 144.2,231.5 144.5,217.2 144.8,229.5 145.1,230.5 145.3,228.6 145.6,234.8 145.9,237.7 146.2,232.8 146.5,219.8 146.8,220.1 147.1,226.4 147.4,223.1 147.7,234.9 148.0,218.6 148.2,216.5 148.5,219.5 148.8,237.3 149.1,210.5 149.4,240.1 149.7,236.9 150.0,235.0 150.3,220.6 150.6,235.1 150.8,225.7 151.1,226.8 151.4,229.2 151.7,219.5 152.0,210.1 152.3,217.7 152.6,225.1 152.9,243.8 153.2,218.6 153.5,225.5 153.7,241.5 154.0,228.1 154.3,213.9 154.6,222.7 154.9,233.5 155.2,208.3 155.5,215.7 155.8,220.1 156.1,215.0 156.3,240.4 156.6,230.1 156.9,228.6 157.2,207.2 157.5,224.0 157.8,229.0 158.1,236.1 158.4,234.0 158.7,228.8 158.9,224.2 159.2,225.4 159.5,207.5 159.8,214.0 160.1,214.6 160.4,207.5 160.7,210.9 161.0,222.3 161.3,234.0 161.6,220.8 161.8,228.0 162.1,210.7 162.4,222.6 162.7,238.0 163.0,223.9 163.3,210.8 163.6,218.6 163.9,217.4 164.2,217.8 164.4,204.5 164.7,212.9 165.0,218.0 165.3,223.6 165.6,235.2 165.9,212.0 166.2,209.0 166.5,226.9 166.8,218.7 167.1,218.5 167.3,224.1 167.6,226.5 167.9,217.8 168.2,231.6 168.5,229.0 168.8,224.8 169.1,222.5 169.4,224.4 169.7,221.2 169.9,217.8 170.2,228.2 170.5,223.9 170.8,228.1 171.1,211.5 171.4,229.9 171.7,225.6 172.0,216.3 172.3,222.1 172.5,223.4 172.8,225.3 173.1,217.6 173.4,227.9 173.7,222.7 174.0,221.5 174.3,233.3 174.6,222.8 174.9,224.7 175.2,218.4 175.4,212.9 175.7,214.0 176.0,227.5 176.3,219.6 176.6,232.9 176.9,230.0 177.2,209.2 177.5,218.2 177.8,207.3 178.0,218.5 178.3,222.2 178.6,231.7 178.9,216.8 179.2,222.4 179.5,216.8 179.8,216.9 180.1,216.6 180.4,218.3 180.6,220.7 180.9,222.4 181.2,228.2 181.5,241.8 181.8,224.4 182.1,205.8 182.4,209.5 182.7,200.3 183.0,212.7 183.3,228.3 183.5,233.8 183.8,218.2 184.1,218.0 184.4,221.9 184.7,215.6 185.0,227.5 185.3,218.1 185.6,222.7 185.9,219.2 186.1,208.9 186.4,218.0 186.7,206.9 187.0,204.7 187.3,219.4 187.6,198.8 187.9,223.2 188.2,222.2 188.5,215.3 188.8,238.7 189.0,218.4 189.3,212.0 189.6,220.8 189.9,220.1 190.2,219.1 190.5,223.9 190.8,214.5 191.1,224.3 191.4,225.3 191.6,222.6 191.9,217.9 192.2,213.5 192.5,234.1 192.8,245.2 193.1,231.8 193.4,226.9 193.7,234.2 194.0,224.3 194.2,219.2 194.5,219.0 194.8,208.0 195.1,227.7 195.4,225.4 195.7,207.2 196.0,212.4 196.3,226.9 196.6,221.2 196.9,210.5 197.1,200.2 197.4,208.8 197.7,206.5 198.0,225.9 198.3,224.3 198.6,211.5 198.9,225.8 199.2,222.1 199.5,235.6 199.7,211.1 200.0,217.3 200.3,213.7 200.6,230.9 200.9,234.7 201.2,209.7 201.5,219.8 201.8,225.0 202.1,218.5 202.4,215.4 202.6,236.4 202.9,234.8 203.2,225.4 203.5,222.5 203.8,220.5 204.1,226.7 204.4,226.7 204.7,222.7 205.0,229.5 205.2,232.8 205.5,230.1 205.8,225.1 206.1,224.2 206.4,226.1 206.7,225.1 207.0,222.6 207.3,219.0 207.6,217.9 207.8,232.0 208.1,216.1 208.4,233.4 208.7,220.7 209.0,228.0 209.3,217.6 209.6,210.2 209.9,232.9 210.2,219.2 210.5,218.7 210.7,224.0 211.0,218.2 211.3,224.9 211.6,220.4 211.9,228.4 212.2,216.2 212.5,214.2 212.8,212.4 213.1,223.2 213.3,205.5 213.6,200.1 213.9,214.1 214.2,221.0 214.5,222.0 214.8,212.4 215.1,207.0 215.4,219.8 215.7,233.8 216.0,216.7 216.2,216.0 216.5,214.3 216.8,210.7 217.1,223.8 217.4,218.0 217.7,220.6 218.0,215.0 218.3,207.0 218.6,214.8 218.8,224.1 219.1,208.9 219.4,207.4 219.7,214.7 220.0,231.3 220.3,228.0 220.6,218.8 220.9,212.1 221.2,219.6 221.4,214.0 221.7,221.4 222.0,222.1 222.3,215.3 222.6,219.9 222.9,217.6 223.2,209.6 223.5,205.4 223.8,218.6 224.1,219.0 224.3,227.7 224.6,229.0 224.9,215.7 225.2,218.7 225.5,229.7 225.8,212.1 226.1,219.0 226.4,216.4 226.7,210.8 226.9,209.1 227.2,212.9 227.5,230.1 227.8,214.1 228.1,219.0 228.4,227.2 228.7,235.8 229.0,208.8 229.3,210.9 229.6,212.6 229.8,207.6 230.1,211.0 230.4,224.3 230.7,209.7 231.0,203.8 231.3,206.9 231.6,199.0 231.9,192.3 232.2,213.9 232.4,217.7 232.7,206.2 233.0,210.4 233.3,210.4 233.6,204.0 233.9,203.9 234.2,213.4 234.5,209.6 234.8,216.8 235.0,214.6 235.3,221.6 235.6,231.2 235.9,222.6 236.2,219.2 236.5,206.0 236.8,197.6 237.1,208.0 237.4,206.9 237.7,215.4 237.9,221.5 238.2,217.6 238.5,216.1 238.8,210.5 239.1,210.0 239.4,198.4 239.7,208.6 240.0,223.7 240.3,212.2 240.5,213.4 240.8,207.4 241.1,198.8 241.4,209.9 241.7,208.9 242.0,203.9 242.3,215.2 242.6,207.4 242.9,203.1 243.2,200.4 243.4,197.2 243.7,201.5 244.0,203.7 244.3,219.4 244.6,234.6 244.9,225.0 245.2,202.8 245.5,206.2 245.8,226.1 246.0,217.3 246.3,208.5 246.6,223.9 246.9,207.7 247.2,217.3 247.5,201.8 247.8,205.6 248.1,184.9 248.4,211.1 248.6,206.1 248.9,219.4 249.2,201.4 249.5,204.9 249.8,199.1 250.1,203.7 250.4,215.7 250.7,215.5 251.0,220.7 251.3,219.1 251.5,208.5 251.8,198.7 252.1,197.9 252.4,198.9 252.7,207.4 253.0,201.4 253.3,210.1 253.6,205.3 253.9,198.3 254.1,204.2 254.4,209.9 254.7,211.5 255.0,202.5 255.3,206.8 255.6,218.1 255.9,212.8 256.2,215.5 256.5,195.7 256.8,203.0 257.0,217.3 257.3,207.5 257.6,199.7 257.9,200.4 258.2,207.4 258.5,203.3 258.8,202.0 259.1,195.2 259.4,198.1 259.6,182.8 259.9,198.9 260.2,189.0 260.5,198.8 260.8,217.1 261.1,218.1 261.4,223.8 261.7,224.9 262.0,200.9 262.2,209.6 262.5,200.7 262.8,209.6 263.1,207.0 263.4,214.4 263.7,201.3 264.0,208.4 264.3,211.3 264.6,210.3 264.9,190.7 265.1,199.6 265.4,198.0 265.7,214.0 266.0,214.0 266.3,205.7 266.6,221.3 266.9,199.5 267.2,202.3 267.5,205.4 267.7,208.3 268.0,209.0 268.3,211.0 268.6,195.8 268.9,196.3 269.2,190.1 269.5,203.4 269.8,211.7 270.1,196.1 270.3,213.0 270.6,213.9 270.9,202.9 271.2,196.7 271.5,215.2 271.8,212.1 272.1,209.1 272.4,211.1 272.7,216.3 273.0,205.6 273.2,212.9 273.5,212.2 273.8,229.1 274.1,217.9 274.4,228.5 274.7,211.1 275.0,207.3 275.3,214.2 275.6,209.7 275.8,208.1 276.1,209.9 276.4,206.7 276.7,209.9 277.0,212.8 277.3,215.1 277.6,195.4 277.9,202.4 278.2,205.3 278.5,200.5 278.7,208.5 279.0,210.9 279.3,202.5 279.6,196.9 279.9,197.5 280.2,214.7 280.5,207.1 280.8,207.4 281.1,204.3 281.3,213.9 281.6,218.2 281.9,210.1 282.2,214.6 282.5,217.5 282.8,209.4 283.1,198.2 283.4,201.8 283.7,194.4 283.9,210.6 284.2,201.9 284.5,204.1 284.8,213.2 285.1,211.1 285.4,213.9 285.7,209.0 286.0,211.4 286.3,195.4 286.6,205.8 286.8,217.9 287.1,211.6 287.4,204.1 287.7,208.7 288.0,200.6 288.3,212.9 288.6,215.0 288.9,196.6 289.2,205.0 289.4,202.3 289.7,203.6 290.0,202.5 290.3,206.9 290.6,211.1 290.9,201.8 291.2,212.4 291.5,210.2 291.8,204.5 292.1,210.5 292.3,221.9 292.6,208.9 292.9,200.2 293.2,204.2 293.5,220.4 293.8,207.9 294.1,192.2 294.4,216.8 294.7,232.8 294.9,217.7 295.2,209.9 295.5,201.8 295.8,199.3 296.1,204.2 296.4,201.9 296.7,203.1 297.0,204.9 297.3,206.2 297.5,207.5 297.8,200.8 298.1,202.2 298.4,209.1 298.7,200.1 299.0,211.2 299.3,211.3 299.6,207.1 299.9,220.4 300.2,213.0 300.4,199.6 300.7,196.0 301.0,211.7 301.3,214.0 301.6,216.1 301.9,209.0 302.2,205.5 302.5,218.1 302.8,206.8 303.0,205.3 303.3,205.0 303.6,209.9 303.9,207.2 304.2,218.5 304.5,206.0 304.8,202.5 305.1,204.2 305.4,214.7 305.7,197.2 305.9,192.9 306.2,215.3 306.5,204.6 306.8,203.9 307.1,224.8 307.4,206.0 307.7,198.4 308.0,196.5 308.3,200.1 308.5,208.4 308.8,209.3 309.1,201.7 309.4,193.6 309.7,204.0 310.0,205.1 310.3,199.1 310.6,219.3 310.9,204.1 311.1,206.0 311.4,222.9 311.7,203.7 312.0,211.2 312.3,200.1 312.6,193.1 312.9,211.6 313.2,216.7 313.5,206.8 313.8,219.4 314.0,201.0 314.3,199.1 314.6,192.4 314.9,212.0 315.2,201.8 315.5,196.0 315.8,213.5 316.1,196.8 316.4,211.0 316.6,203.7 316.9,213.4 317.2,199.8 317.5,187.7 317.8,196.6 318.1,199.9 318.4,190.6 318.7,201.9 319.0,202.6 319.3,195.9 319.5,197.2 319.8,188.3 320.1,189.5 320.4,185.1 320.7,199.2 321.0,193.8 321.3,206.9 321.6,196.3 321.9,185.4 322.1,177.3 322.4,203.4 322.7,202.9 323.0,195.0 323.3,205.1 323.6,194.8 323.9,192.3 324.2,201.0 324.5,202.8 324.7,207.4 325.0,198.8 325.3,188.7 325.6,194.3 325.9,176.3 326.2,203.8 326.5,205.4 326.8,195.5 327.1,207.8 327.4,198.8 327.6,192.8 327.9,196.8 328.2,201.6 328.5,193.8 328.8,195.4 329.1,194.1 329.4,195.1 329.7,205.0 330.0,209.8 330.2,205.3 330.5,202.0 330.8,203.7 331.1,195.1 331.4,197.8 331.7,191.8 332.0,196.7 332.3,207.0 332.6,196.6 332.9,196.3 333.1,206.8 333.4,205.6 333.7,182.1 334.0,217.3 334.3,197.9 334.6,200.4 334.9,201.9 335.2,202.7 335.5,205.8 335.7,184.3 336.0,200.0 336.3,204.3 336.6,195.2 336.9,196.8 337.2,202.5 337.5,203.9 337.8,213.2 338.1,195.5 338.3,209.1 338.6,222.8 338.9,199.4 339.2,194.1 339.5,196.8 339.8,205.7 340.1,194.1 340.4,209.2 340.7,221.7 341.0,206.2 341.2,195.9 341.5,194.0 341.8,179.3 342.1,186.6 342.4,196.5 342.7,199.7 343.0,191.5 343.3,197.5 343.6,199.0 343.8,214.2 344.1,207.5 344.4,213.6 344.7,203.6 345.0,200.7 345.3,194.6 345.6,184.7 345.9,197.2 346.2,188.3 346.4,206.9 346.7,201.8 347.0,192.3 347.3,181.7 347.6,204.6 347.9,205.0 348.2,200.7 348.5,203.0 348.8,210.8 349.1,218.9 349.3,219.8 349.6,210.3 349.9,217.0 350.2,193.3 350.5,191.4 350.8,216.0 351.1,211.5 351.4,193.7 351.7,188.3 351.9,189.6 352.2,211.0 352.5,208.8 352.8,194.3 353.1,199.9 353.4,206.7 353.7,201.8 354.0,196.4 354.3,202.6 354.6,204.0 354.8,197.7 355.1,208.8 355.4,214.4 355.7,203.1 356.0,215.5 356.3,204.6 356.6,211.7 356.9,201.9 357.2,217.0 357.4,201.1 357.7,202.8 358.0,208.2 358.3,215.2 358.6,210.0 358.9,214.3 359.2,218.1 359.5,200.5 359.8,200.6 360.0,194.3 360.3,215.3 360.6,225.5 360.9,225.2 361.2,206.6 361.5,198.5 361.8,218.8 362.1,200.4 362.4,206.6 362.7,214.8 362.9,208.4 363.2,200.0 363.5,204.1 363.8,205.2 364.1,211.2 364.4,217.7 364.7,209.4 365.0,217.7 365.3,202.0 365.5,210.2 365.8,195.4 366.1,216.2 366.4,196.9 366.7,210.2 367.0,215.0 367.3,207.5 367.6,200.0 367.9,205.9 368.2,211.1 368.4,192.5 368.7,199.2 369.0,215.4 369.3,211.8 369.6,195.1 369.9,200.2 370.2,198.6 370.5,187.4 370.8,205.6 371.0,203.3 371.3,210.9 371.6,208.7 371.9,204.3 372.2,218.3 372.5,210.6 372.8,207.7 373.1,199.3 373.4,209.9 373.6,218.7 373.9,207.3 374.2,216.5 374.5,208.6 374.8,203.3 375.1,212.0 375.4,210.2 375.7,216.9 376.0,231.0 376.3,225.8 376.5,228.5 376.8,211.7 377.1,216.8 377.4,210.6 377.7,208.9"/>
<polyline fill="none" stroke="#8064A2" stroke-width="1.2" stroke-linejoin="bevel" points="59.7,345.0 60.0,253.6 60.3,232.9 60.6,234.0 60.9,254.3 61.1,253.8 61.4,242.9 61.7,247.0 62.0,236.0 62.3,232.6 62.6,228.0 62.9,240.0 63.2,228.0 63.5,212.9 63.8,231.1 64.0,218.2 64.3,215.8 64.6,217.3 64.9,222.0 65.2,232.1 65.5,231.9 65.8,216.2 66.1,208.8 66.4,204.8 66.6,205.3 66.9,205.0 67.2,214.2 67.5,223.7 67.8,214.4 68.1,207.9 68.4,209.9 68.7,223.4 69.0,218.0 69.2,223.6 69.5,212.0 69.8,218.0 70.1,214.7 70.4,208.1 70.7,208.6 71.0,199.4 71.3,216.6 71.6,230.1 71.9,208.6 72.1,198.9 72.4,195.4 72.7,203.9 73.0,203.1 73.3,206.0 73.6,218.6 73.9,215.6 74.2,206.1 74.5,212.8 74.7,193.4 75.0,215.9 75.3,213.7 75.6,200.7 75.9,210.7 76.2,219.9 76.5,223.4 76.8,218.8 77.1,200.1 77.4,203.2 77.6,203.8 77.9,211.7 78.2,204.3 78.5,208.3 78.8,217.2 79.1,215.1 79.4,210.8 79.7,201.2 80.0,208.0 80.2,205.8 80.5,191.0 80.8,211.2 81.1,220.2 81.4,205.2 81.7,203.8 82.0,208.0 82.3,206.5 82.6,212.2 82.8,205.1 83.1,209.9 83.4,201.4 83.7,214.6 84.0,215.6 84.3,208.7 84.6,212.0 84.9,203.7 85.2,206.1 85.5,212.4 85.7,208.1 86.0,213.0 86.3,222.7 86.6,221.8 86.9,219.7 87.2,217.3 87.5,211.4 87.8,201.9 88.1,201.7 88.3,191.4 88.6,192.8 88.9,205.0 89.2,193.6 89.5,193.4 89.8,207.7 90.1,205.3 90.4,198.2 90.7,202.7 91.0,197.6 91.2,199.3 91.5,196.8 91.8,203.8 92.1,202.1 92.4,207.5 92.7,200.9 93.0,218.1 93.3,208.3 93.6,196.4 93.8,197.8 94.1,204.6 94.4,202.3 94.7,213.6 95.0,216.6 95.3,213.1 95.6,208.9 95.9,199.0 96.2,210.9 96.4,198.8 96.7,215.4 97.0,213.7 97.3,206.2 97.6,195.3 97.9,206.7 98.2,223.6 98.5,206.1 98.8,204.7 99.1,213.5 99.3,216.3 99.6,213.9 99.9,207.4 100.2,201.4 100.5,216.9 100.8,188.7 101.1,200.5 101.4,207.3 101.7,201.6 101.9,205.4 102.2,187.4 102.5,191.9 102.8,205.8 103.1,210.0 103.4,212.3 103.7,211.7 104.0,204.4 104.3,213.3 104.5,197.1 104.8,207.1 105.1,210.8 105.4,203.4 105.7,225.7 106.0,223.1 106.3,210.1 106.6,211.2 106.9,211.1 107.2,207.5 107.4,213.7 107.7,213.9 108.0,222.8 108.3,230.3 108.6,206.2 108.9,216.7 109.2,217.5 109.5,199.7 109.8,197.3 110.0,208.7 110.3,212.8 110.6,210.4 110.9,216.4 111.2,206.4 111.5,205.1 111.8,204.7 112.1,198.1 112.4,197.1 112.7,187.9 112.9,187.7 113.2,214.2 113.5,201.1 113.8,213.7 114.1,220.3 114.4,203.4 114.7,211.1 115.0,209.4 115.3,198.2 115.5,210.0 115.8,215.9 116.1,208.3 116.4,198.3 116.7,200.4 117.0,218.6 117.3,216.2 117.6,210.3 117.9,191.6 118.1,194.6 118.4,196.2 118.7,195.1 119.0,206.4 119.3,204.9 119.6,203.5 119.9,215.5 120.2,210.4 120.5,204.4 120.8,217.0 121.0,204.7 121.3,201.9 121.6,198.9 121.9,213.0 122.2,210.1 122.5,198.2 122.8,200.8 123.1,214.7 123.4,212.0 123.6,200.8 123.9,210.8 124.2,208.8 124.5,189.3 124.8,206.8 125.1,212.1 125.4,221.2 125.7,221.8 126.0,203.4 126.3,211.9 126.5,224.3 126.8,225.6 127.1,218.2 127.4,209.4 127.7,220.2 128.0,210.5 128.3,217.1 128.6,213.0 128.9,210.6 129.1,209.0 129.4,217.4 129.7,216.3 130.0,210.5 130.3,224.5 130.6,216.8 130.9,211.4 131.2,203.6 131.5,210.8 131.7,214.1 132.0,211.9 132.3,218.7 132.6,214.6 132.9,209.2 133.2,207.9 133.5,218.6 133.8,215.4 134.1,230.4 134.4,209.1 134.6,214.3 134.9,209.4 135.2,219.8 135.5,214.8 135.8,208.3 136.1,201.3 136.4,218.4 136.7,204.5 137.0,208.5 137.2,214.9 137.5,205.9 137.8,209.4 138.1,210.8 138.4,214.1 138.7,206.6 139.0,206.1 139.3,208.2 139.6,214.7 139.9,211.9 140.1,204.1 140.4,194.6 140.7,202.8 141.0,192.4 141.3,202.9 141.6,214.4 141.9,202.9 142.2,213.6 142.5,204.3 142.7,196.0 143.0,205.6 143.3,206.4 143.6,186.7 143.9,199.5 144.2,201.6 144.5,199.2 144.8,204.2 145.1,206.2 145.3,202.2 145.6,224.4 145.9,201.2 146.2,214.8 146.5,218.7 146.8,207.5 147.1,209.1 147.4,219.6 147.7,211.2 148.0,221.0 148.2,220.4 148.5,226.0 148.8,222.7 149.1,210.6 149.4,208.4 149.7,206.5 150.0,201.7 150.3,209.0 150.6,216.0 150.8,214.2 151.1,197.7 151.4,205.7 151.7,206.2 152.0,209.5 152.3,208.1 152.6,206.2 152.9,210.2 153.2,213.4 153.5,219.5 153.7,222.6 154.0,213.4 154.3,207.0 154.6,203.8 154.9,207.8 155.2,216.2 155.5,207.3 155.8,204.0 156.1,220.5 156.3,206.9 156.6,203.6 156.9,194.5 157.2,217.0 157.5,223.7 157.8,209.1 158.1,224.9 158.4,221.5 158.7,224.2 158.9,222.9 159.2,231.0 159.5,219.1 159.8,204.4 160.1,204.7 160.4,204.8 160.7,211.3 161.0,197.7 161.3,202.0 161.6,198.3 161.8,218.4 162.1,207.2 162.4,216.9 162.7,208.1 163.0,206.0 163.3,216.8 163.6,208.9 163.9,198.4 164.2,199.9 164.4,200.3 164.7,212.5 165.0,216.5 165.3,221.3 165.6,211.1 165.9,200.1 166.2,203.4 166.5,208.7 166.8,218.8 167.1,208.8 167.3,212.4 167.6,226.4 167.9,229.1 168.2,217.8 168.5,219.7 168.8,197.7 169.1,204.5 169.4,215.7 169.7,214.8 169.9,197.4 170.2,212.5 170.5,203.1 170.8,202.2 171.1,193.3 171.4,197.5 171.7,206.2 172.0,201.5 172.3,205.3 172.5,198.3 172.8,204.3 173.1,189.3 173.4,201.7 173.7,201.5 174.0,210.7 174.3,207.6 174.6,206.3 174.9,204.9 175.2,198.9 175.4,209.9 175.7,215.6 176.0,200.0 176.3,206.9 176.6,212.8 176.9,198.3 177.2,196.4 177.5,223.6 177.8,212.9 178.0,199.5 178.3,195.0 178.6,204.5 178.9,191.0 179.2,205.2 179.5,205.2 179.8,200.8 180.1,202.8 180.4,195.8 180.6,191.4 180.9,199.5 181.2,189.8 181.5,203.7 181.8,203.9 182.1,188.6 182.4,197.5 182.7,191.5 183.0,201.5 183.3,203.5 183.5,202.9 183.8,200.4 184.1,203.3 184.4,202.4 184.7,197.6 185.0,191.5 185.3,199.7 185.6,197.9 185.9,195.1 186.1,210.4 186.4,220.1 186.7,195.8 187.0,192.6 187.3,201.3 187.6,202.8 187.9,214.6 188.2,221.0 188.5,209.3 188.8,221.2 189.0,205.1 189.3,213.0 189.6,207.5 189.9,192.2 190.2,187.2 190.5,204.4 190.8,198.6 191.1,214.6 191.4,214.6 191.6,206.3 191.9,194.7 192.2,207.8 192.5,202.6 192.8,204.1 193.1,216.3 193.4,210.0 193.7,194.3 194.0,203.4 194.2,201.2 194.5,198.0 194.8,208.6 195.1,194.1 195.4,188.2 195.7,185.7 196.0,189.1 196.3,204.3 196.6,209.9 196.9,214.1 197.1,215.6 197.4,216.5 197.7,201.7 198.0,193.3 198.3,209.2 198.6,201.0 198.9,215.1 199.2,212.9 199.5,218.5 199.7,224.6 200.0,212.7 200.3,209.8 200.6,212.9 200.9,214.7 201.2,219.2 201.5,212.8 201.8,214.6 202.1,206.9 202.4,216.0 202.6,206.7 202.9,200.9 203.2,192.4 203.5,191.3 203.8,199.3 204.1,208.1 204.4,220.5 204.7,207.9 205.0,192.8 205.2,185.9 205.5,218.7 205.8,212.6 206.1,207.8 206.4,212.5 206.7,203.5 207.0,202.5 207.3,206.8 207.6,204.2 207.8,216.2 208.1,213.4 208.4,212.8 208.7,197.7 209.0,214.4 209.3,207.2 209.6,198.0 209.9,202.5 210.2,196.6 210.5,206.6 210.7,200.8 211.0,195.7 211.3,183.6 211.6,192.0 211.9,187.8 212.2,198.5 212.5,200.9 212.8,189.1 213.1,194.6 213.3,189.4 213.6,193.8 213.9,183.1 214.2,177.8 214.5,203.9 214.8,188.1 215.1,194.2 215.4,196.3 215.7,201.5 216.0,196.0 216.2,209.1 216.5,211.1 216.8,210.4 217.1,202.2 217.4,193.5 217.7,192.6 218.0,195.8 218.3,204.7 218.6,216.4 218.8,202.8 219.1,201.0 219.4,198.9 219.7,190.6 220.0,200.1 220.3,202.9 220.6,221.5 220.9,202.3 221.2,202.5 221.4,208.2 221.7,199.2 222.0,208.1 222.3,208.5 222.6,189.7 222.9,194.1 223.2,192.9 223.5,194.5 223.8,195.9 224.1,199.4 224.3,183.9 224.6,198.4 224.9,195.4 225.2,202.2 225.5,205.1 225.8,223.8 226.1,224.6 226.4,196.3 226.7,187.2 226.9,198.8 227.2,200.1 227.5,196.6 227.8,208.6 228.1,188.9 228.4,205.5 228.7,207.3 229.0,224.4 229.3,195.6 229.6,197.9 229.8,186.6 230.1,204.0 230.4,198.4 230.7,198.3 231.0,196.8 231.3,180.4 231.6,173.4 231.9,179.7 232.2,195.9 232.4,190.0 232.7,184.3 233.0,188.3 233.3,189.9 233.6,191.5 233.9,203.9 234.2,198.1 234.5,184.5 234.8,202.7 235.0,198.2 235.3,190.6 235.6,206.8 235.9,202.4 236.2,213.6 236.5,207.3 236.8,213.6 237.1,209.9 237.4,204.4 237.7,201.1 237.9,199.2 238.2,215.3 238.5,186.7 238.8,194.6 239.1,203.7 239.4,202.7 239.7,194.8 240.0,205.1 240.3,202.2 240.5,202.5 240.8,193.9 241.1,202.2 241.4,194.0 241.7,192.9 242.0,197.2 242.3,186.4 242.6,192.3 242.9,204.7 243.2,195.1 243.4,193.8 243.7,195.3 244.0,192.2 244.3,174.7 244.6,186.1 244.9,188.4 245.2,194.5 245.5,184.5 245.8,193.2 246.0,201.0 246.3,207.0 246.6,194.3 246.9,189.0 247.2,206.4 247.5,205.6 247.8,194.6 248.1,187.9 248.4,206.0 248.6,204.1 248.9,193.1 249.2,201.2 249.5,203.0 249.8,202.9 250.1,208.9 250.4,198.7 250.7,193.9 251.0,207.0 251.3,199.4 251.5,188.6 251.8,194.3 252.1,189.8 252.4,200.1 252.7,186.1 253.0,199.5 253.3,182.1 253.6,195.7 253.9,202.7 254.1,205.5 254.4,202.5 254.7,201.6 255.0,201.3 255.3,198.1 255.6,187.4 255.9,182.8 256.2,192.0 256.5,180.6 256.8,194.9 257.0,200.4 257.3,202.7 257.6,190.2 257.9,204.3 258.2,206.5 258.5,185.3 258.8,175.8 259.1,177.0 259.4,200.4 259.6,194.4 259.9,185.6 260.2,189.1 260.5,205.4 260.8,198.2 261.1,207.8 261.4,206.9 261.7,178.0 262.0,183.4 262.2,202.4 262.5,208.5 262.8,193.8 263.1,197.3 263.4,188.5 263.7,197.6 264.0,196.4 264.3,192.2 264.6,201.4 264.9,212.5 265.1,210.8 265.4,205.3 265.7,199.3 266.0,196.4 266.3,196.9 266.6,190.4 266.9,202.7 267.2,186.9 267.5,175.3 267.7,186.0 268.0,190.5 268.3,183.9 268.6,185.5 268.9,191.1 269.2,195.2 269.5,201.0 269.8,207.1 270.1,192.7 270.3,185.3 270.6,201.8 270.9,198.3 271.2,195.1 271.5,198.9 271.8,202.2 272.1,200.5 272.4,213.4 272.7,201.5 273.0,200.0 273.2,178.7 273.5,182.4 273.8,193.7 274.1,194.4 274.4,180.8 274.7,176.7 275.0,188.2 275.3,193.9 275.6,205.4 275.8,200.7 276.1,197.6 276.4,202.5 276.7,183.4 277.0,208.5 277.3,201.4 277.6,194.9 277.9,192.4 278.2,180.0 278.5,201.9 278.7,202.6 279.0,195.9 279.3,193.6 279.6,197.7 279.9,203.2 280.2,188.9 280.5,201.0 280.8,200.6 281.1,184.2 281.3,175.3 281.6,180.5 281.9,196.7 282.2,202.2 282.5,204.8 282.8,207.6 283.1,201.0 283.4,185.7 283.7,190.7 283.9,200.7 284.2,204.0 284.5,209.6 284.8,191.1 285.1,211.9 285.4,199.2 285.7,209.3 286.0,210.4 286.3,215.4 286.6,195.2 286.8,197.4 287.1,177.1 287.4,201.0 287.7,208.8 288.0,196.9 288.3,193.6 288.6,200.2 288.9,216.4 289.2,192.4 289.4,192.6 289.7,195.4 290.0,206.4 290.3,199.3 290.6,208.1 290.9,205.2 291.2,205.7 291.5,193.7 291.8,204.8 292.1,206.9 292.3,194.6 292.6,199.1 292.9,201.6 293.2,203.8 293.5,194.6 293.8,204.1 294.1,198.6 294.4,183.1 294.7,193.0 294.9,206.2 295.2,214.3 295.5,205.0 295.8,214.4 296.1,220.1 296.4,215.7 296.7,216.1 297.0,198.7 297.3,213.2 297.5,191.2 297.8,204.0 298.1,199.2 298.4,193.7 298.7,197.1 299.0,192.6 299.3,206.1 299.6,221.6 299.9,209.4 300.2,219.3 300.4,212.9 300.7,199.1 301.0,203.1 301.3,207.6 301.6,214.7 301.9,210.6 302.2,208.3 302.5,220.6 302.8,208.2 303.0,215.8 303.3,207.8 303.6,211.0 303.9,199.4 304.2,196.0 304.5,201.1 304.8,203.9 305.1,199.5 305.4,191.0 305.7,190.5 305.9,198.6 306.2,198.9 306.5,189.5 306.8,213.7 307.1,202.5 307.4,210.7 307.7,195.4 308.0,206.2 308.3,205.9 308.5,213.7 308.8,207.4 309.1,198.6 309.4,188.8 309.7,209.0 310.0,208.1 310.3,183.3 310.6,191.1 310.9,200.6 311.1,198.0 311.4,223.2 311.7,195.0 312.0,199.2 312.3,214.5 312.6,196.5 312.9,206.0 313.2,211.6 313.5,201.5 313.8,198.9 314.0,205.7 314.3,203.7 314.6,214.2 314.9,218.5 315.2,200.4 315.5,190.3 315.8,194.9 316.1,197.2 316.4,204.8 316.6,205.3 316.9,210.8 317.2,191.6 317.5,205.2 317.8,200.4 318.1,201.5 318.4,213.7 318.7,188.9 319.0,200.2 319.3,206.3 319.5,200.9 319.8,206.4 320.1,200.5 320.4,205.8 320.7,195.9 321.0,196.2 321.3,209.2 321.6,193.9 321.9,195.6 322.1,207.5 322.4,198.3 322.7,195.8 323.0,181.6 323.3,200.3 323.6,192.4 323.9,197.5 324.2,192.4 324.5,198.9 324.7,198.5 325.0,192.3 325.3,204.2 325.6,215.6 325.9,202.0 326.2,201.0 326.5,197.4 326.8,193.6 327.1,199.3 327.4,189.8 327.6,195.6 327.9,196.2 328.2,191.1 328.5,192.1 328.8,197.3 329.1,197.6 329.4,205.2 329.7,206.1 330.0,200.2 330.2,192.3 330.5,200.2 330.8,190.8 331.1,177.7 331.4,173.7 331.7,187.7 332.0,183.8 332.3,185.3 332.6,185.1 332.9,184.2 333.1,186.4 333.4,184.5 333.7,188.6 334.0,193.3 334.3,191.4 334.6,188.6 334.9,181.2 335.2,185.7 335.5,184.4 335.7,178.5 336.0,196.4 336.3,197.0 336.6,191.2 336.9,192.3 337.2,201.9 337.5,188.0 337.8,193.2 338.1,201.4 338.3,178.7 338.6,199.0 338.9,194.1 339.2,198.8 339.5,192.3 339.8,186.3 340.1,196.9 340.4,193.1 340.7,192.3 341.0,199.1 341.2,183.0 341.5,187.1 341.8,192.5 342.1,196.8 342.4,195.5 342.7,191.9 343.0,194.2 343.3,181.3 343.6,209.5 343.8,215.1 344.1,200.4 344.4,208.7 344.7,196.5 345.0,197.3 345.3,188.6 345.6,187.4 345.9,179.9 346.2,180.8 346.4,177.9 346.7,184.8 347.0,179.6 347.3,184.2 347.6,194.2 347.9,202.3 348.2,204.0 348.5,190.5 348.8,212.6 349.1,198.1 349.3,200.7 349.6,190.0 349.9,191.8 350.2,201.8 350.5,196.9 350.8,214.4 351.1,199.2 351.4,192.9 351.7,210.2 351.9,193.8 352.2,196.9 352.5,195.1 352.8,207.4 353.1,193.4 353.4,189.6 353.7,193.8 354.0,202.7 354.3,191.4 354.6,184.7 354.8,188.6 355.1,185.3 355.4,197.3 355.7,194.2 356.0,192.4 356.3,193.0 356.6,173.1 356.9,184.8 357.2,196.2 357.4,188.7 357.7,203.8 358.0,195.9 358.3,190.7 358.6,198.7 358.9,199.6 359.2,205.4 359.5,198.0 359.8,201.5 360.0,181.9 360.3,185.0 360.6,192.9 360.9,205.5 361.2,180.6 361.5,178.7 361.8,185.3 362.1,189.3 362.4,191.6 362.7,198.6 362.9,182.0 363.2,190.9 363.5,206.0 363.8,203.4 364.1,219.7 364.4,198.5 364.7,190.2 365.0,179.2 365.3,174.2 365.5,195.5 365.8,191.8 366.1,185.1 366.4,184.8 366.7,195.0 367.0,187.1 367.3,188.1 367.6,181.1 367.9,191.1 368.2,195.0 368.4,199.4 368.7,200.5 369.0,203.2 369.3,199.7 369.6,190.8 369.9,188.1 370.2,181.5 370.5,181.6 370.8,185.7 371.0,201.7 371.3,193.7 371.6,185.8 371.9,203.8 372.2,208.3 372.5,208.0 372.8,207.7 373.1,201.6 373.4,204.4 373.6,193.7 373.9,203.7 374.2,197.5 374.5,199.2 374.8,202.6 375.1,187.6 375.4,191.9 375.7,188.2 376.0,195.1 376.3,188.1 376.5,186.0 376.8,192.0 377.1,207.3 377.4,189.6 377.7,185.1"/>
<polyline fill="none" stroke="#4F81BD" stroke-width="1.2" stroke-linejoin="bevel" points="440.8,345.4 441.1,271.8 441.4,282.4 441.7,269.6 442.0,270.3 442.3,267.9 442.6,244.9 442.9,243.7 443.2,250.9 443.5,250.6 443.9,238.8 444.2,251.9 444.5,243.7 444.8,250.3 445.1,242.9 445.4,243.6 445.7,251.5 446.0,240.7 446.3,241.3 446.6,232.8 446.9,245.7 447.2,246.0 447.5,251.4 447.8,240.0 448.1,249.3 448.4,248.0 448.7,238.2 449.0,240.9 449.4,242.8 449.7,244.4 450.0,244.2 450.3,241.8 450.6,248.1 450.9,260.8 451.2,241.7 451.5,251.7 451.8,234.4 452.1,240.1 452.4,226.9 452.7,231.6 453.0,237.6 453.3,235.5 453.6,250.9 453.9,244.7 454.2,246.6 454.5,244.5 454.9,257.9 455.2,262.7 455.5,243.1 455.8,242.1 456.1,245.0 456.4,243.1 456.7,246.6 457.0,246.3 457.3,238.0 457.6,241.2 457.9,236.3 458.2,243.5 458.5,253.3 458.8,248.1 459.1,242.4 459.4,247.1 459.7,242.9 460.0,242.3 460.4,232.2 460.7,229.4 461.0,227.1 461.3,238.4 461.6,234.5 461.9,227.0 462.2,231.2 462.5,234.3 462.8,240.3 463.1,230.0 463.4,231.6 463.7,225.7 464.0,232.2 464.3,218.8 464.6,229.6 464.9,241.4 465.2,235.1 465.5,231.0 465.9,223.7 466.2,232.4 466.5,236.1 466.8,234.5 467.1,235.1 467.4,246.9 467.7,231.4 468.0,223.3 468.3,234.6 468.6,239.7 468.9,235.0 469.2,238.3 469.5,227.4 469.8,233.7 470.1,226.8 470.4,236.7 470.7,240.6 471.0,242.6 471.4,242.1 471.7,229.1 472.0,221.9 472.3,224.4 472.6,224.6 472.9,240.9 473.2,223.4 473.5,234.0 473.8,220.5 474.1,208.0 474.4,220.5 474.7,220.4 475.0,220.2 475.3,233.4 475.6,236.3 475.9,233.6 476.2,227.1 476.5,220.9 476.9,223.7 477.2,218.6 477.5,227.2 477.8,236.2 478.1,229.1 478.4,226.6 478.7,234.5 479.0,220.5 479.3,228.3 479.6,227.2 479.9,218.5 480.2,223.8 480.5,212.4 480.8,208.8 481.1,206.1 481.4,206.8 481.7,208.8 482.0,210.7 482.4,202.9 482.7,193.0 483.0,192.4 483.3,193.2 483.6,188.4 483.9,182.8 484.2,197.2 484.5,192.5 484.8,181.5 485.1,189.9 485.4,190.6 485.7,182.4 486.0,184.6 486.3,174.3 486.6,180.2 486.9,175.3 487.2,159.5 487.5,163.3 487.9,180.4 488.2,182.2 488.5,181.6 488.8,174.0 489.1,179.7 489.4,167.4 489.7,155.6 490.0,152.8 490.3,166.9 490.6,167.7 490.9,166.9 491.2,170.0 491.5,154.7 491.8,165.7 492.1,170.7 492.4,162.1 492.7,159.4 493.0,150.5 493.4,146.7 493.7,156.5 494.0,171.9 494.3,157.3 494.6,151.1 494.9,142.0 495.2,162.4 495.5,164.9 495.8,146.9 496.1,140.7 496.4,140.4 496.7,149.0 497.0,143.7 497.3,153.6 497.6,161.0 497.9,155.3 498.2,152.5 498.5,146.7 498.9,143.6 499.2,161.6 499.5,153.2 499.8,149.3 500.1,160.3 500.4,156.9 500.7,153.0 501.0,148.7 501.3,156.1 501.6,156.6 501.9,160.4 502.2,151.3 502.5,152.5 502.8,155.3 503.1,147.1 503.4,151.1 503.7,159.0 504.0,145.3 504.4,142.8 504.7,145.9 505.0,156.5 505.3,144.7 505.6,152.8 505.9,163.2 506.2,154.9 506.5,138.4 506.8,148.8 507.1,144.7 507.4,137.8 507.7,143.4 508.0,147.5 508.3,145.6 508.6,141.1 508.9,147.0 509.2,143.3 509.5,140.8 509.9,146.0 510.2,140.0 510.5,139.1 510.8,144.5 511.1,144.8 511.4,143.3 511.7,144.6 512.0,144.6 512.3,149.6 512.6,144.3 512.9,138.1 513.2,137.7 513.5,147.6 513.8,142.3 514.1,140.1 514.4,150.0 514.7,143.1 515.0,145.8 515.4,148.2 515.7,145.1 516.0,146.9 516.3,161.4 516.6,149.8 516.9,155.4 517.2,150.2 517.5,143.5 517.8,147.2 518.1,150.3 518.4,147.1 518.7,144.5 519.0,152.5 519.3,153.9 519.6,146.4 519.9,137.1 520.2,145.7 520.5,142.6 520.9,152.7 521.2,151.5 521.5,151.2 521.8,160.9 522.1,154.6 522.4,154.6 522.7,170.3 523.0,159.8 523.3,154.9 523.6,154.2 523.9,153.9 524.2,163.4 524.5,164.7 524.8,161.6 525.1,165.0 525.4,164.5 525.7,153.1 526.0,164.5 526.4,164.5 526.7,150.5 527.0,159.0 527.3,168.2 527.6,162.7 527.9,161.0 528.2,161.4 528.5,173.1 528.8,164.2 529.1,161.1 529.4,148.7 529.7,153.8 530.0,161.6 530.3,158.7 530.6,155.2 530.9,159.7 531.2,160.5 531.5,151.4 531.9,155.4 532.2,155.4 532.5,165.6 532.8,159.8 533.1,173.4 533.4,156.5 533.7,162.1 534.0,156.8 534.3,150.0 534.6,164.3 534.9,154.3 535.2,157.2 535.5,152.0 535.8,160.9 536.1,165.1 536.4,153.6 536.7,155.1 537.0,158.0 537.4,166.4 537.7,152.6 538.0,158.4 538.3,159.5 538.6,162.4 538.9,157.6 539.2,152.3 539.5,154.5 539.8,154.6 540.1,157.6 540.4,144.4 540.7,139.5 541.0,149.7 541.3,156.2 541.6,150.8 541.9,160.6 542.2,151.5 542.5,148.5 542.9,148.5 543.2,139.1 543.5,134.5 543.8,141.9 544.1,148.7 544.4,142.2 544.7,139.4 545.0,153.0 545.3,153.9 545.6,150.8 545.9,158.2 546.2,156.8 546.5,138.2 546.8,151.3 547.1,140.7 547.4,147.9 547.7,138.6 548.0,139.8 548.4,136.6 548.7,149.5 549.0,142.0 549.3,145.1 549.6,137.1 549.9,135.4 550.2,137.4 550.5,139.8 550.8,139.4 551.1,136.9 551.4,141.1 551.7,141.6 552.0,142.9 552.3,146.1 552.6,131.8 552.9,142.9 553.2,128.9 553.5,128.2 553.9,145.1 554.2,150.5 554.5,140.0 554.8,144.3 555.1,137.4 555.4,130.9 555.7,132.5 556.0,136.2 556.3,138.1 556.6,128.2 556.9,136.9 557.2,125.8 557.5,120.6 557.8,134.4 558.1,134.1 558.4,125.3 558.7,138.1 559.0,135.0 559.4,130.7 559.7,143.6 560.0,137.4 560.3,137.2 560.6,140.5 560.9,129.0 561.2,136.4 561.5,122.7 561.8,128.9 562.1,139.7 562.4,136.7 562.7,142.7 563.0,135.2 563.3,134.0 563.6,144.8 563.9,142.9 564.2,136.1 564.5,137.2 564.9,144.2 565.2,133.3 565.5,128.0 565.8,144.9 566.1,130.6 566.4,148.5 566.7,142.1 567.0,143.2 567.3,143.6 567.6,138.3 567.9,145.8 568.2,141.2 568.5,128.2 568.8,131.6 569.1,126.2 569.4,128.8 569.7,145.3 570.0,127.4 570.4,127.8 570.7,128.7 571.0,135.0 571.3,136.9 571.6,140.7 571.9,135.1 572.2,130.5 572.5,131.1 572.8,129.9 573.1,139.9 573.4,135.1 573.7,133.1 574.0,125.5 574.3,127.2 574.6,128.1 574.9,125.1 575.2,128.5 575.5,128.8 575.9,120.4 576.2,126.4 576.5,133.5 576.8,126.1 577.1,123.9 577.4,125.0 577.7,138.4 578.0,129.6 578.3,133.0 578.6,134.5 578.9,136.3 579.2,135.6 579.5,136.0 579.8,130.7 580.1,137.4 580.4,142.8 580.7,139.7 581.0,144.8 581.4,138.9 581.7,143.4 582.0,141.9 582.3,148.7 582.6,140.2 582.9,140.5 583.2,149.6 583.5,149.4 583.8,146.3 584.1,154.4 584.4,155.5 584.7,145.4 585.0,141.9 585.3,135.6 585.6,149.8 585.9,147.9 586.2,157.8 586.5,137.0 586.9,149.5 587.2,146.1 587.5,132.2 587.8,131.5 588.1,146.0 588.4,129.9 588.7,136.2 589.0,147.8 589.3,142.9 589.6,138.8 589.9,138.2 590.2,155.3 590.5,135.2 590.8,151.1 591.1,146.9 591.4,135.4 591.7,138.8 592.0,142.2 592.4,146.6 592.7,140.4 593.0,132.7 593.3,142.9 593.6,140.0 593.9,144.0 594.2,145.4 594.5,156.3 594.8,143.9 595.1,135.6 595.4,139.6 595.7,133.0 596.0,136.8 596.3,130.7 596.6,136.0 596.9,140.7 597.2,143.4 597.5,140.2 597.9,138.2 598.2,144.2 598.5,141.2 598.8,147.2 599.1,148.9 599.4,136.9 599.7,134.8 600.0,130.9 600.3,134.8 600.6,135.2 600.9,125.4 601.2,139.7 601.5,136.2 601.8,127.4 602.1,122.0 602.4,129.5 602.7,136.4 603.0,144.9 603.4,142.1 603.7,139.1 604.0,139.0 604.3,135.9 604.6,134.9 604.9,141.6 605.2,145.9 605.5,144.2 605.8,139.0 606.1,130.4 606.4,148.7 606.7,137.1 607.0,141.7 607.3,135.8 607.6,128.1 607.9,135.2 608.2,147.5 608.5,146.4 608.9,141.6 609.2,144.5 609.5,143.6 609.8,147.9 610.1,146.1 610.4,147.9 610.7,139.1 611.0,140.7 611.3,137.7 611.6,151.9 611.9,149.8 612.2,151.0 612.5,148.5 612.8,150.1 613.1,149.7 613.4,135.8 613.7,143.1 614.0,151.1 614.4,147.3 614.7,130.3 615.0,135.2 615.3,146.5 615.6,145.8 615.9,144.3 616.2,143.0 616.5,153.9 616.8,151.6 617.1,145.9 617.4,154.8 617.7,147.1 618.0,142.9 618.3,137.3 618.6,134.8 618.9,141.9 619.2,141.4 619.5,137.6 619.9,134.5 620.2,139.3 620.5,145.8 620.8,138.9 621.1,135.9 621.4,139.8 621.7,138.7 622.0,132.0 622.3,143.4 622.6,148.1 622.9,152.4 623.2,144.5 623.5,138.8 623.8,145.4 624.1,133.3 624.4,143.7 624.7,141.1 625.0,143.6 625.4,134.4 625.7,144.4 626.0,133.8 626.3,141.8 626.6,151.7 626.9,149.8 627.2,147.2 627.5,134.9 627.8,144.8 628.1,145.1 628.4,132.4 628.7,140.9 629.0,149.0 629.3,152.0 629.6,159.3 629.9,148.6 630.2,140.3 630.5,147.7 630.9,154.2 631.2,148.6 631.5,147.6 631.8,149.2 632.1,145.8 632.4,147.5 632.7,150.2 633.0,142.7 633.3,159.3 633.6,159.5 633.9,155.5 634.2,161.0 634.5,144.9 634.8,162.9 635.1,150.5 635.4,147.9 635.7,148.6 636.0,148.2 636.4,154.2 636.7,156.4 637.0,143.9 637.3,149.6 637.6,160.0 637.9,161.2 638.2,163.1 638.5,152.5 638.8,143.5 639.1,149.6 639.4,147.9 639.7,150.9 640.0,142.8 640.3,140.5 640.6,139.7 640.9,133.1 641.2,149.4 641.5,141.2 641.9,152.7 642.2,141.8 642.5,137.8 642.8,136.2 643.1,135.6 643.4,140.7 643.7,145.0 644.0,137.2 644.3,142.8 644.6,136.3 644.9,144.1 645.2,139.5 645.5,138.4 645.8,145.0 646.1,143.6 646.4,135.1 646.7,137.7 647.0,135.5 647.4,142.1 647.7,139.3 648.0,148.0 648.3,146.5 648.6,133.2 648.9,132.5 649.2,135.1 649.5,134.3 649.8,142.9 650.1,134.0 650.4,141.6 650.7,140.1 651.0,130.5 651.3,136.4 651.6,136.3 651.9,133.3 652.2,130.5 652.5,122.0 652.9,137.1 653.2,133.8 653.5,126.9 653.8,132.2 654.1,134.4 654.4,138.6 654.7,137.4 655.0,133.1 655.3,128.6 655.6,134.0 655.9,129.8 656.2,137.1 656.5,150.8 656.8,140.0 657.1,154.4 657.4,146.9 657.7,144.3 658.0,150.3 658.4,147.0 658.7,148.1 659.0,143.7 659.3,145.1 659.6,140.7 659.9,145.7 660.2,140.7 660.5,143.0 660.8,141.9 661.1,143.4 661.4,148.0 661.7,139.5 662.0,140.8 662.3,159.0 662.6,158.0 662.9,139.3 663.2,146.3 663.5,129.4 663.9,138.6 664.2,141.4 664.5,148.6 664.8,148.7 665.1,146.5 665.4,141.2 665.7,144.7 666.0,147.5 666.3,153.9 666.6,153.1 666.9,153.1 667.2,150.7 667.5,154.2 667.8,157.5 668.1,153.5 668.4,165.4 668.7,164.3 669.0,160.0 669.4,151.0 669.7,155.7 670.0,161.1 670.3,151.4 670.6,153.7 670.9,145.0 671.2,152.4 671.5,158.1 671.8,157.7 672.1,144.6 672.4,142.5 672.7,150.4 673.0,147.4 673.3,162.3 673.6,149.9 673.9,151.9 674.2,154.9 674.5,155.9 674.9,154.0 675.2,157.5 675.5,158.1 675.8,162.8 676.1,147.3 676.4,156.8 676.7,154.8 677.0,146.7 677.3,142.1 677.6,139.1 677.9,150.3 678.2,153.0 678.5,150.8 678.8,160.3 679.1,145.7 679.4,157.2 679.7,150.3 680.0,141.0 680.4,138.1 680.7,145.2 681.0,139.2 681.3,136.3 681.6,152.5 681.9,148.0 682.2,140.5 682.5,139.7 682.8,143.8 683.1,144.1 683.4,129.3 683.7,140.4 684.0,135.3 684.3,147.1 684.6,139.3 684.9,134.0 685.2,140.5 685.5,143.6 685.9,129.1 686.2,137.9 686.5,132.8 686.8,146.3 687.1,131.8 687.4,149.8 687.7,148.9 688.0,146.9 688.3,142.9 688.6,140.2 688.9,130.7 689.2,124.6 689.5,124.5 689.8,130.2 690.1,135.7 690.4,152.0 690.7,145.4 691.0,146.3 691.4,139.3 691.7,147.2 692.0,148.3 692.3,147.5 692.6,139.0 692.9,139.2 693.2,147.0 693.5,153.9 693.8,148.2 694.1,147.3 694.4,146.5 694.7,142.6 695.0,137.3 695.3,135.3 695.6,143.9 695.9,147.7 696.2,134.4 696.5,141.8 696.9,138.1 697.2,140.2 697.5,139.6 697.8,133.0 698.1,141.4 698.4,135.5 698.7,136.6 699.0,140.5 699.3,144.4 699.6,146.2 699.9,136.2 700.2,133.9 700.5,145.2 700.8,141.0 701.1,153.2 701.4,145.8 701.7,131.0 702.0,146.6 702.4,142.3 702.7,146.5 703.0,143.7 703.3,150.8 703.6,145.3 703.9,159.5 704.2,151.1 704.5,149.0 704.8,146.9 705.1,133.2 705.4,149.0 705.7,151.2 706.0,156.3 706.3,146.7 706.6,147.5 706.9,155.0 707.2,145.4 707.5,146.7 707.9,140.9 708.2,143.8 708.5,148.9 708.8,156.5 709.1,167.1 709.4,161.6 709.7,149.4 710.0,155.0 710.3,160.8 710.6,156.2 710.9,152.3 711.2,138.2 711.5,156.8 711.8,158.2 712.1,163.4 712.4,162.2 712.7,151.5 713.0,155.1 713.4,164.6 713.7,149.4 714.0,142.7 714.3,146.0 714.6,158.3 714.9,162.5 715.2,148.7 715.5,158.4 715.8,157.7 716.1,162.4 716.4,141.2 716.7,149.9 717.0,149.5 717.3,152.0 717.6,152.1 717.9,155.1 718.2,141.1 718.5,147.1 718.9,135.0 719.2,148.2 719.5,139.8 719.8,133.5 720.1,144.5 720.4,137.6 720.7,140.1 721.0,144.0 721.3,141.0 721.6,149.9 721.9,142.7 722.2,148.3 722.5,136.0 722.8,127.2 723.1,126.1 723.4,139.0 723.7,139.5 724.0,126.9 724.4,128.2 724.7,132.7 725.0,151.7 725.3,145.9 725.6,128.8 725.9,134.1 726.2,142.8 726.5,142.1 726.8,126.7 727.1,129.7 727.4,148.6 727.7,153.7 728.0,148.1 728.3,139.1 728.6,151.0 728.9,153.3 729.2,168.6 729.5,161.4 729.9,152.8 730.2,151.0 730.5,164.8 730.8,155.0 731.1,164.1 731.4,170.7 731.7,159.4 732.0,169.9 732.3,165.3 732.6,166.3 732.9,162.2 733.2,158.6 733.5,161.7 733.8,164.8 734.1,162.8 734.4,173.8 734.7,162.8 735.0,145.3 735.4,151.3 735.7,148.5 736.0,154.1 736.3,155.4 736.6,153.9 736.9,151.7 737.2,150.3 737.5,159.5 737.8,156.5 738.1,165.5 738.4,152.1 738.7,155.4 739.0,158.2 739.3,165.3 739.6,156.2 739.9,149.7 740.2,150.3 740.5,146.6 740.9,157.4 741.2,149.9 741.5,154.1 741.8,170.9 742.1,157.5 742.4,161.4 742.7,157.4 743.0,160.2 743.3,161.7 743.6,150.6 743.9,157.5 744.2,155.0 744.5,150.7 744.8,156.1 745.1,163.1 745.4,157.6 745.7,156.3 746.0,162.4 746.4,157.1 746.7,148.4 747.0,148.3 747.3,144.7 747.6,145.3 747.9,153.2 748.2,156.4 748.5,164.5 748.8,152.3 749.1,159.8 749.4,154.7 749.7,145.3 750.0,152.8 750.3,166.1 750.6,167.4 750.9,163.8 751.2,151.9 751.5,159.4 751.9,160.3 752.2,166.6 752.5,159.5 752.8,159.0 753.1,154.8 753.4,165.2 753.7,159.2 754.0,170.8 754.3,169.6 754.6,167.4 754.9,165.4 755.2,160.8 755.5,177.5 755.8,168.6 756.1,167.6 756.4,173.6 756.7,169.4 757.0,164.0 757.4,168.0 757.7,170.1 758.0,162.6 758.3,169.9 758.6,160.0 758.9,161.6 759.2,161.1 759.5,159.8 759.8,154.6 760.1,166.1 760.4,157.8 760.7,169.2 761.0,164.4 761.3,161.2 761.6,163.6 761.9,171.5 762.2,175.0 762.5,175.1 762.9,168.3 763.2,165.4 763.5,161.4 763.8,173.8 764.1,165.2 764.4,158.6 764.7,162.2 765.0,164.5 765.3,159.3 765.6,153.5 765.9,152.0 766.2,150.8 766.5,169.2 766.8,157.3 767.1,164.6 767.4,159.3 767.7,166.8 768.0,162.6 768.4,167.2 768.7,167.1 769.0,153.5 769.3,169.4 769.6,160.4 769.9,163.4 770.2,172.3 770.5,158.5 770.8,163.1 771.1,168.1 771.4,163.4 771.7,169.7 772.0,155.4 772.3,171.9 772.6,171.0 772.9,179.8 773.2,168.4 773.5,161.9 773.9,159.4 774.2,154.5 774.5,163.2 774.8,169.0 775.1,162.0 775.4,170.7 775.7,166.7 776.0,170.2 776.3,173.5 776.6,170.8"/>
<polyline fill="none" stroke="#9BBB59" stroke-width="1.2" stroke-linejoin="bevel" points="440.8,345.4 441.1,275.7 441.4,271.7 441.7,266.9 442.0,260.7 442.3,261.2 442.6,256.6 442.9,250.5 443.2,250.6 443.5,248.4 443.9,253.2 444.2,255.4 444.5,251.6 444.8,242.2 445.1,242.7 445.4,239.3 445.7,238.6 446.0,238.0 446.3,249.5 446.6,240.6 446.9,241.0 447.2,232.7 447.5,239.2 447.8,242.9 448.1,246.4 448.4,245.3 448.7,256.6 449.0,251.3 449.4,248.7 449.7,241.6 450.0,249.8 450.3,247.2 450.6,236.1 450.9,247.0 451.2,242.0 451.5,248.5 451.8,247.9 452.1,244.5 452.4,240.3 452.7,247.5 453.0,251.8 453.3,237.4 453.6,241.7 453.9,238.6 454.2,237.1 454.5,237.1 454.9,242.9 455.2,244.4 455.5,252.9 455.8,244.7 456.1,245.4 456.4,243.2 456.7,230.4 457.0,233.8 457.3,238.3 457.6,248.1 457.9,237.5 458.2,229.1 458.5,239.4 458.8,234.8 459.1,238.4 459.4,236.8 459.7,237.7 460.0,245.1 460.4,239.9 460.7,245.0 461.0,228.2 461.3,224.9 461.6,229.3 461.9,229.2 462.2,230.1 462.5,229.1 462.8,228.5 463.1,231.0 463.4,230.5 463.7,237.7 464.0,237.9 464.3,235.6 464.6,229.2 464.9,230.6 465.2,217.5 465.5,226.1 465.9,228.9 466.2,225.3 466.5,220.6 466.8,213.5 467.1,216.9 467.4,226.8 467.7,226.9 468.0,219.4 468.3,221.5 468.6,218.0 468.9,222.1 469.2,213.5 469.5,212.1 469.8,213.0 470.1,218.8 470.4,230.5 470.7,232.3 471.0,222.7 471.4,217.7 471.7,235.7 472.0,227.3 472.3,214.7 472.6,211.5 472.9,217.8 473.2,212.5 473.5,214.7 473.8,215.4 474.1,207.2 474.4,204.6 474.7,212.6 475.0,217.1 475.3,220.4 475.6,221.7 475.9,205.6 476.2,196.9 476.5,203.1 476.9,199.8 477.2,208.4 477.5,206.0 477.8,199.8 478.1,200.7 478.4,202.7 478.7,212.9 479.0,214.4 479.3,208.5 479.6,207.3 479.9,204.3 480.2,206.5 480.5,204.3 480.8,201.9 481.1,198.0 481.4,199.3 481.7,203.1 482.0,201.9 482.4,194.4 482.7,198.7 483.0,204.2 483.3,206.5 483.6,199.5 483.9,195.4 484.2,190.0 484.5,196.9 484.8,189.1 485.1,197.5 485.4,198.3 485.7,200.2 486.0,195.0 486.3,189.5 486.6,194.4 486.9,199.4 487.2,206.9 487.5,199.3 487.9,199.1 488.2,198.8 488.5,201.2 488.8,203.4 489.1,201.6 489.4,196.2 489.7,191.3 490.0,195.1 490.3,194.1 490.6,197.3 490.9,198.2 491.2,205.5 491.5,194.8 491.8,193.4 492.1,188.4 492.4,198.0 492.7,196.4 493.0,202.6 493.4,197.0 493.7,197.0 494.0,193.4 494.3,197.1 494.6,193.6 494.9,198.8 495.2,194.1 495.5,197.9 495.8,199.8 496.1,196.5 496.4,193.1 496.7,203.0 497.0,206.9 497.3,196.6 497.6,195.6 497.9,206.9 498.2,208.1 498.5,202.7 498.9,194.2 499.2,192.1 499.5,187.1 499.8,184.2 500.1,176.1 500.4,195.2 500.7,192.9 501.0,186.1 501.3,197.9 501.6,201.5 501.9,193.4 502.2,186.4 502.5,183.2 502.8,199.8 503.1,200.9 503.4,195.1 503.7,195.3 504.0,190.0 504.4,189.8 504.7,180.0 505.0,186.9 505.3,186.9 505.6,187.3 505.9,181.2 506.2,191.9 506.5,186.4 506.8,191.5 507.1,197.1 507.4,183.2 507.7,182.8 508.0,176.3 508.3,181.4 508.6,179.9 508.9,182.0 509.2,180.3 509.5,185.0 509.9,174.8 510.2,186.7 510.5,174.5 510.8,183.1 511.1,179.5 511.4,182.0 511.7,181.0 512.0,174.9 512.3,180.9 512.6,189.1 512.9,184.1 513.2,180.0 513.5,197.1 513.8,182.1 514.1,176.7 514.4,191.3 514.7,186.0 515.0,178.3 515.4,187.8 515.7,186.6 516.0,185.8 516.3,179.7 516.6,174.5 516.9,180.0 517.2,181.5 517.5,176.5 517.8,177.4 518.1,181.6 518.4,174.4 518.7,188.3 519.0,183.0 519.3,184.5 519.6,185.1 519.9,180.6 520.2,180.0 520.5,165.7 520.9,172.2 521.2,175.6 521.5,169.1 521.8,170.6 522.1,187.8 522.4,181.6 522.7,176.7 523.0,182.5 523.3,179.0 523.6,182.2 523.9,178.8 524.2,188.8 524.5,193.6 524.8,186.9 525.1,180.4 525.4,171.7 525.7,178.8 526.0,183.8 526.4,175.8 526.7,178.0 527.0,168.3 527.3,176.6 527.6,190.1 527.9,188.2 528.2,187.9 528.5,190.5 528.8,187.6 529.1,186.0 529.4,183.4 529.7,183.6 530.0,178.3 530.3,176.8 530.6,177.9 530.9,177.8 531.2,189.8 531.5,192.3 531.9,188.8 532.2,180.1 532.5,188.3 532.8,183.7 533.1,178.3 533.4,166.5 533.7,173.3 534.0,179.7 534.3,171.4 534.6,174.3 534.9,177.6 535.2,169.3 535.5,179.2 535.8,175.9 536.1,175.8 536.4,171.1 536.7,182.0 537.0,186.2 537.4,182.4 537.7,180.0 538.0,178.6 538.3,181.1 538.6,176.0 538.9,172.9 539.2,174.8 539.5,183.1 539.8,171.8 540.1,184.7 540.4,180.8 540.7,173.7 541.0,180.7 541.3,171.8 541.6,165.6 541.9,165.6 542.2,172.2 542.5,170.8 542.9,178.7 543.2,176.0 543.5,174.6 543.8,175.3 544.1,175.1 544.4,176.5 544.7,187.0 545.0,175.3 545.3,172.0 545.6,161.0 545.9,165.6 546.2,170.7 546.5,167.8 546.8,168.3 547.1,172.5 547.4,176.3 547.7,183.4 548.0,175.8 548.4,164.5 548.7,182.2 549.0,181.9 549.3,171.3 549.6,171.4 549.9,169.8 550.2,183.0 550.5,178.8 550.8,170.5 551.1,167.3 551.4,168.3 551.7,175.8 552.0,169.1 552.3,177.5 552.6,178.4 552.9,180.9 553.2,166.6 553.5,172.8 553.9,171.6 554.2,184.2 554.5,167.8 554.8,166.6 555.1,178.9 555.4,182.7 555.7,163.5 556.0,173.7 556.3,159.5 556.6,169.0 556.9,183.8 557.2,166.1 557.5,164.7 557.8,163.1 558.1,170.1 558.4,170.3 558.7,162.6 559.0,171.4 559.4,180.4 559.7,165.5 560.0,170.1 560.3,159.8 560.6,167.9 560.9,169.7 561.2,168.6 561.5,181.6 561.8,164.0 562.1,170.0 562.4,169.0 562.7,159.1 563.0,163.5 563.3,160.5 563.6,163.6 563.9,161.0 564.2,163.0 564.5,158.3 564.9,165.0 565.2,163.2 565.5,169.8 565.8,160.0 566.1,177.3 566.4,167.9 566.7,164.1 567.0,163.3 567.3,165.3 567.6,157.3 567.9,149.8 568.2,164.3 568.5,176.9 568.8,175.2 569.1,172.9 569.4,168.0 569.7,166.8 570.0,159.6 570.4,166.7 570.7,166.4 571.0,166.2 571.3,171.5 571.6,169.7 571.9,151.3 572.2,162.8 572.5,171.4 572.8,180.9 573.1,165.1 573.4,168.3 573.7,170.9 574.0,153.5 574.3,154.0 574.6,173.5 574.9,170.6 575.2,161.5 575.5,159.8 575.9,170.3 576.2,156.0 576.5,150.8 576.8,168.0 577.1,177.3 577.4,177.5 577.7,164.9 578.0,158.8 578.3,162.1 578.6,168.5 578.9,167.2 579.2,163.4 579.5,172.8 579.8,178.9 580.1,171.2 580.4,160.9 580.7,163.4 581.0,164.8 581.4,170.7 581.7,162.3 582.0,176.1 582.3,169.5 582.6,171.0 582.9,168.8 583.2,172.8 583.5,163.2 583.8,165.4 584.1,169.1 584.4,163.6 584.7,166.1 585.0,169.9 585.3,170.8 585.6,162.7 585.9,170.7 586.2,168.6 586.5,168.7 586.9,165.0 587.2,167.5 587.5,153.8 587.8,173.8 588.1,165.7 588.4,166.9 588.7,160.6 589.0,175.0 589.3,162.0 589.6,173.9 589.9,164.4 590.2,163.6 590.5,166.8 590.8,172.0 591.1,172.6 591.4,165.5 591.7,167.4 592.0,174.1 592.4,174.7 592.7,157.7 593.0,151.3 593.3,150.9 593.6,152.8 593.9,150.3 594.2,148.9 594.5,151.3 594.8,157.9 595.1,159.3 595.4,162.4 595.7,155.2 596.0,159.7 596.3,156.5 596.6,146.2 596.9,153.5 597.2,147.8 597.5,142.3 597.9,160.5 598.2,164.3 598.5,154.3 598.8,158.9 599.1,151.6 599.4,148.6 599.7,155.1 600.0,149.1 600.3,142.0 600.6,145.2 600.9,156.9 601.2,155.7 601.5,158.5 601.8,146.6 602.1,153.8 602.4,158.7 602.7,155.5 603.0,151.2 603.4,155.2 603.7,153.3 604.0,153.2 604.3,149.5 604.6,147.3 604.9,150.5 605.2,156.2 605.5,152.8 605.8,160.7 606.1,151.9 606.4,153.2 606.7,154.4 607.0,171.3 607.3,147.6 607.6,146.9 607.9,147.5 608.2,154.5 608.5,152.8 608.9,141.1 609.2,157.5 609.5,154.3 609.8,153.6 610.1,155.8 610.4,155.7 610.7,163.7 611.0,156.3 611.3,166.3 611.6,151.3 611.9,153.0 612.2,163.3 612.5,174.7 612.8,165.0 613.1,161.0 613.4,168.0 613.7,153.9 614.0,158.3 614.4,164.2 614.7,172.0 615.0,166.6 615.3,165.6 615.6,160.3 615.9,156.3 616.2,161.3 616.5,159.6 616.8,154.2 617.1,157.2 617.4,163.8 617.7,160.9 618.0,167.9 618.3,163.6 618.6,165.3 618.9,173.0 619.2,164.8 619.5,166.1 619.9,162.4 620.2,174.0 620.5,162.4 620.8,158.4 621.1,166.9 621.4,167.5 621.7,167.1 622.0,167.4 622.3,162.5 622.6,170.2 622.9,175.9 623.2,172.0 623.5,157.5 623.8,167.4 624.1,173.3 624.4,175.3 624.7,169.3 625.0,161.7 625.4,171.4 625.7,169.3 626.0,168.6 626.3,167.0 626.6,168.8 626.9,163.6 627.2,163.8 627.5,172.5 627.8,156.2 628.1,174.3 628.4,179.4 628.7,165.7 629.0,166.6 629.3,169.5 629.6,167.7 629.9,165.3 630.2,170.7 630.5,174.0 630.9,177.4 631.2,177.3 631.5,176.6 631.8,163.9 632.1,165.2 632.4,163.7 632.7,170.3 633.0,162.4 633.3,175.6 633.6,168.1 633.9,163.5 634.2,170.5 634.5,175.9 634.8,167.3 635.1,171.6 635.4,174.7 635.7,170.6 636.0,174.7 636.4,170.5 636.7,157.0 637.0,168.0 637.3,162.3 637.6,172.6 637.9,168.7 638.2,169.3 638.5,168.9 638.8,163.5 639.1,154.2 639.4,164.9 639.7,160.1 640.0,164.4 640.3,162.7 640.6,169.6 640.9,173.2 641.2,171.4 641.5,174.1 641.9,170.1 642.2,176.0 642.5,171.2 642.8,168.1 643.1,157.2 643.4,155.0 643.7,161.9 644.0,171.0 644.3,167.1 644.6,163.9 644.9,169.4 645.2,175.4 645.5,183.1 645.8,174.8 646.1,160.5 646.4,169.3 646.7,168.6 647.0,168.2 647.4,166.8 647.7,165.1 648.0,181.6 648.3,174.8 648.6,170.4 648.9,172.0 649.2,164.6 649.5,171.9 649.8,166.4 650.1,160.0 650.4,170.1 650.7,171.9 651.0,175.0 651.3,170.1 651.6,185.7 651.9,187.0 652.2,179.9 652.5,170.4 652.9,169.0 653.2,177.2 653.5,165.2 653.8,170.5 654.1,176.8 654.4,172.1 654.7,165.3 655.0,172.1 655.3,182.0 655.6,179.1 655.9,174.6 656.2,167.8 656.5,177.1 656.8,173.0 657.1,180.7 657.4,175.7 657.7,182.5 658.0,179.1 658.4,184.6 658.7,183.2 659.0,186.6 659.3,189.3 659.6,170.4 659.9,165.1 660.2,168.3 660.5,173.9 660.8,164.5 661.1,172.2 661.4,169.5 661.7,164.3 662.0,168.8 662.3,162.8 662.6,170.1 662.9,172.5 663.2,171.1 663.5,178.7 663.9,180.9 664.2,170.1 664.5,181.4 664.8,167.5 665.1,169.1 665.4,164.0 665.7,165.2 666.0,166.5 666.3,159.5 666.6,167.8 666.9,170.7 667.2,164.3 667.5,173.2 667.8,165.1 668.1,165.6 668.4,172.9 668.7,179.9 669.0,187.0 669.4,165.2 669.7,179.3 670.0,182.3 670.3,170.3 670.6,169.4 670.9,169.9 671.2,170.9 671.5,174.4 671.8,178.9 672.1,179.3 672.4,170.9 672.7,165.9 673.0,163.4 673.3,171.1 673.6,186.5 673.9,174.2 674.2,174.4 674.5,189.8 674.9,169.5 675.2,171.1 675.5,173.6 675.8,172.6 676.1,172.4 676.4,171.6 676.7,172.3 677.0,173.0 677.3,169.7 677.6,170.7 677.9,159.6 678.2,170.1 678.5,177.7 678.8,180.6 679.1,175.9 679.4,176.2 679.7,175.3 680.0,177.7 680.4,178.3 680.7,172.1 681.0,166.9 681.3,171.7 681.6,175.3 681.9,183.4 682.2,186.4 682.5,179.2 682.8,178.9 683.1,177.7 683.4,183.3 683.7,178.8 684.0,188.9 684.3,187.3 684.6,184.9 684.9,175.7 685.2,180.1 685.5,183.8 685.9,177.2 686.2,176.3 686.5,170.8 686.8,172.4 687.1,173.3 687.4,175.7 687.7,171.9 688.0,178.6 688.3,185.5 688.6,173.0 688.9,177.8 689.2,176.0 689.5,171.7 689.8,167.8 690.1,187.9 690.4,185.0 690.7,170.1 691.0,183.8 691.4,174.4 691.7,176.8 692.0,181.1 692.3,178.3 692.6,187.2 692.9,177.0 693.2,168.8 693.5,182.0 693.8,182.1 694.1,170.9 694.4,172.6 694.7,177.4 695.0,168.3 695.3,184.2 695.6,180.5 695.9,177.6 696.2,180.1 696.5,174.0 696.9,187.9 697.2,181.5 697.5,184.6 697.8,174.1 698.1,171.9 698.4,182.3 698.7,186.8 699.0,181.8 699.3,186.2 699.6,185.7 699.9,179.7 700.2,183.7 700.5,171.5 700.8,178.5 701.1,184.3 701.4,189.8 701.7,188.7 702.0,178.7 702.4,180.0 702.7,175.8 703.0,175.6 703.3,180.7 703.6,190.2 703.9,188.9 704.2,187.6 704.5,198.4 704.8,190.7 705.1,197.0 705.4,193.9 705.7,196.5 706.0,190.3 706.3,176.1 706.6,194.4 706.9,191.2 707.2,177.7 707.5,191.5 707.9,190.9 708.2,190.0 708.5,187.2 708.8,197.9 709.1,188.6 709.4,184.0 709.7,171.1 710.0,183.3 710.3,190.0 710.6,187.2 710.9,202.5 711.2,188.7 711.5,176.0 711.8,181.6 712.1,182.3 712.4,183.2 712.7,180.3 713.0,188.2 713.4,172.2 713.7,179.9 714.0,181.8 714.3,168.5 714.6,174.7 714.9,179.5 715.2,169.2 715.5,176.2 715.8,174.2 716.1,183.7 716.4,193.8 716.7,185.2 717.0,175.6 717.3,185.3 717.6,183.8 717.9,181.2 718.2,183.6 718.5,185.9 718.9,182.0 719.2,184.1 719.5,189.6 719.8,181.8 720.1,182.0 720.4,183.9 720.7,182.8 721.0,203.5 721.3,192.5 721.6,190.9 721.9,202.1 722.2,180.7 722.5,185.6 722.8,191.0 723.1,192.1 723.4,189.2 723.7,191.2 724.0,200.9 724.4,196.9 724.7,190.6 725.0,188.0 725.3,185.2 725.6,195.8 725.9,196.3 726.2,190.7 726.5,194.9 726.8,191.1 727.1,197.2 727.4,189.8 727.7,191.2 728.0,188.4 728.3,191.0 728.6,196.6 728.9,200.7 729.2,193.6 729.5,196.1 729.9,202.5 730.2,198.6 730.5,189.6 730.8,183.8 731.1,185.4 731.4,182.1 731.7,191.4 732.0,192.5 732.3,197.9 732.6,197.9 732.9,183.0 733.2,186.7 733.5,186.2 733.8,174.8 734.1,175.1 734.4,192.5 734.7,186.4 735.0,195.0 735.4,187.0 735.7,201.6 736.0,200.1 736.3,199.9 736.6,182.4 736.9,199.8 737.2,187.9 737.5,184.4 737.8,189.1 738.1,185.8 738.4,174.7 738.7,184.6 739.0,191.2 739.3,183.0 739.6,184.5 739.9,196.7 740.2,192.2 740.5,190.7 740.9,200.1 741.2,201.0 741.5,199.6 741.8,202.5 742.1,193.2 742.4,191.8 742.7,206.7 743.0,200.3 743.3,194.4 743.6,202.0 743.9,198.1 744.2,193.2 744.5,204.3 744.8,199.0 745.1,210.9 745.4,195.3 745.7,199.5 746.0,205.5 746.4,209.7 746.7,209.5 747.0,191.5 747.3,198.4 747.6,199.2 747.9,198.4 748.2,205.1 748.5,194.0 748.8,211.1 749.1,194.9 749.4,200.4 749.7,196.5 750.0,194.0 750.3,190.0 750.6,201.1 750.9,193.0 751.2,194.1 751.5,195.7 751.9,196.6 752.2,188.1 752.5,189.4 752.8,184.4 753.1,184.8 753.4,203.0 753.7,197.1 754.0,188.0 754.3,197.2 754.6,204.4 754.9,209.9 755.2,185.3 755.5,196.4 755.8,192.9 756.1,199.3 756.4,192.1 756.7,181.9 757.0,198.2 757.4,194.4 757.7,198.0 758.0,205.9 758.3,201.7 758.6,195.1 758.9,185.7 759.2,183.0 759.5,189.7 759.8,202.6 760.1,192.3 760.4,192.8 760.7,192.6 761.0,199.8 761.3,195.4 761.6,181.9 761.9,180.2 762.2,181.1 762.5,185.6 762.9,194.2 763.2,194.3 763.5,193.2 763.8,191.2 764.1,195.2 764.4,199.3 764.7,188.0 765.0,194.5 765.3,188.9 765.6,193.7 765.9,189.3 766.2,189.4 766.5,187.5 766.8,187.3 767.1,196.4 767.4,202.0 767.7,195.6 768.0,183.2 768.4,194.8 768.7,197.9 769.0,179.6 769.3,198.1 769.6,197.6 769.9,196.1 770.2,197.9 770.5,197.7 770.8,186.8 771.1,189.2 771.4,190.1 771.7,202.1 772.0,190.5 772.3,191.3 772.6,191.0 772.9,186.2 773.2,188.3 773.5,191.0 773.9,189.9 774.2,196.5 774.5,199.5 774.8,203.1 775.1,189.8 775.4,195.5 775.7,192.2 776.0,185.6 776.3,178.6 776.6,190.9"/>
<polyline fill="none" stroke="#8064A2" stroke-width="1.2" stroke-linejoin="bevel" points="440.8,345.4 441.1,277.5 441.4,278.4 441.7,255.5 442.0,260.4 442.3,256.3 442.6,256.7 442.9,250.2 443.2,248.5 443.5,243.4 443.9,240.7 444.2,230.4 444.5,243.3 444.8,240.0 445.1,240.8 445.4,245.3 445.7,235.6 446.0,226.0 446.3,241.0 446.6,223.4 446.9,234.3 447.2,237.3 447.5,252.9 447.8,241.5 448.1,239.9 448.4,240.6 448.7,234.7 449.0,238.3 449.4,235.3 449.7,240.5 450.0,244.7 450.3,238.3 450.6,233.0 450.9,230.8 451.2,232.8 451.5,238.5 451.8,235.2 452.1,235.9 452.4,241.5 452.7,233.2 453.0,233.9 453.3,238.3 453.6,234.9 453.9,228.0 454.2,219.9 454.5,236.7 454.9,232.8 455.2,225.4 455.5,219.2 455.8,222.4 456.1,231.0 456.4,229.7 456.7,226.4 457.0,229.6 457.3,232.6 457.6,234.9 457.9,211.9 458.2,219.6 458.5,223.5 458.8,218.4 459.1,220.0 459.4,221.4 459.7,219.0 460.0,223.3 460.4,222.8 460.7,213.8 461.0,213.4 461.3,222.9 461.6,209.6 461.9,216.9 462.2,226.3 462.5,214.6 462.8,211.2 463.1,211.7 463.4,219.7 463.7,208.1 464.0,208.8 464.3,209.6 464.6,210.2 464.9,208.5 465.2,197.2 465.5,209.8 465.9,207.7 466.2,202.0 466.5,202.4 466.8,211.2 467.1,209.5 467.4,209.8 467.7,216.4 468.0,210.2 468.3,200.6 468.6,201.0 468.9,196.3 469.2,197.8 469.5,205.4 469.8,200.2 470.1,212.2 470.4,197.0 470.7,202.1 471.0,190.7 471.4,205.0 471.7,206.4 472.0,203.1 472.3,199.7 472.6,207.3 472.9,207.5 473.2,196.3 473.5,200.7 473.8,192.0 474.1,184.1 474.4,200.2 474.7,198.7 475.0,184.0 475.3,182.4 475.6,195.7 475.9,188.9 476.2,178.3 476.5,198.1 476.9,187.9 477.2,180.1 477.5,186.4 477.8,188.8 478.1,179.8 478.4,190.6 478.7,179.6 479.0,172.5 479.3,177.8 479.6,189.1 479.9,173.5 480.2,178.4 480.5,176.1 480.8,184.1 481.1,181.3 481.4,173.1 481.7,186.4 482.0,189.7 482.4,194.4 482.7,180.6 483.0,176.0 483.3,182.6 483.6,176.8 483.9,177.1 484.2,165.4 484.5,181.1 484.8,178.1 485.1,182.2 485.4,170.0 485.7,175.4 486.0,188.0 486.3,181.3 486.6,184.2 486.9,190.5 487.2,183.6 487.5,184.3 487.9,192.6 488.2,190.7 488.5,180.8 488.8,179.6 489.1,186.8 489.4,190.3 489.7,187.6 490.0,190.4 490.3,197.8 490.6,189.3 490.9,195.2 491.2,183.5 491.5,185.8 491.8,186.0 492.1,192.5 492.4,191.1 492.7,194.4 493.0,194.8 493.4,199.0 493.7,185.2 494.0,197.0 494.3,183.3 494.6,185.1 494.9,196.0 495.2,186.3 495.5,188.9 495.8,196.9 496.1,193.3 496.4,195.3 496.7,198.6 497.0,195.7 497.3,192.1 497.6,195.6 497.9,194.3 498.2,188.4 498.5,192.7 498.9,195.7 499.2,202.0 499.5,196.0 499.8,196.9 500.1,195.8 500.4,189.1 500.7,186.8 501.0,191.9 501.3,197.2 501.6,194.6 501.9,193.5 502.2,193.4 502.5,204.1 502.8,196.4 503.1,203.0 503.4,197.3 503.7,195.7 504.0,196.1 504.4,189.6 504.7,194.6 505.0,193.9 505.3,201.0 505.6,198.3 505.9,199.2 506.2,197.6 506.5,198.9 506.8,212.8 507.1,198.4 507.4,194.2 507.7,210.0 508.0,201.3 508.3,193.7 508.6,193.3 508.9,193.8 509.2,199.3 509.5,203.3 509.9,190.8 510.2,196.3 510.5,190.2 510.8,198.7 511.1,195.1 511.4,195.2 511.7,195.5 512.0,207.7 512.3,189.4 512.6,196.8 512.9,203.2 513.2,200.8 513.5,212.6 513.8,197.3 514.1,203.6 514.4,201.7 514.7,200.9 515.0,212.2 515.4,207.3 515.7,196.7 516.0,205.0 516.3,200.8 516.6,194.7 516.9,189.2 517.2,203.1 517.5,196.3 517.8,196.0 518.1,197.0 518.4,194.5 518.7,195.4 519.0,206.4 519.3,200.5 519.6,205.5 519.9,201.4 520.2,204.5 520.5,193.9 520.9,193.6 521.2,195.8 521.5,204.3 521.8,200.2 522.1,208.4 522.4,209.1 522.7,214.7 523.0,200.6 523.3,204.5 523.6,197.0 523.9,194.0 524.2,193.7 524.5,202.7 524.8,193.9 525.1,192.6 525.4,207.7 525.7,202.5 526.0,208.0 526.4,205.8 526.7,196.4 527.0,199.2 527.3,192.2 527.6,196.5 527.9,196.2 528.2,190.7 528.5,191.1 528.8,193.8 529.1,192.0 529.4,192.6 529.7,208.5 530.0,210.8 530.3,204.8 530.6,196.5 530.9,204.9 531.2,212.8 531.5,205.0 531.9,205.8 532.2,194.1 532.5,213.7 532.8,199.5 533.1,196.8 533.4,215.1 533.7,210.1 534.0,204.3 534.3,198.5 534.6,199.4 534.9,195.4 535.2,197.2 535.5,204.1 535.8,191.2 536.1,195.7 536.4,204.1 536.7,198.2 537.0,200.3 537.4,202.8 537.7,204.3 538.0,208.9 538.3,206.9 538.6,208.8 538.9,214.0 539.2,200.2 539.5,197.3 539.8,199.5 540.1,206.3 540.4,206.5 540.7,192.6 541.0,202.5 541.3,195.2 541.6,197.0 541.9,195.9 542.2,201.0 542.5,200.5 542.9,200.7 543.2,206.4 543.5,192.8 543.8,201.7 544.1,198.5 544.4,188.5 544.7,187.1 545.0,199.2 545.3,195.8 545.6,191.3 545.9,208.1 546.2,188.4 546.5,192.1 546.8,198.2 547.1,198.7 547.4,211.5 547.7,197.7 548.0,187.5 548.4,195.1 548.7,186.9 549.0,189.9 549.3,203.4 549.6,196.2 549.9,210.1 550.2,212.5 550.5,197.7 550.8,194.5 551.1,196.8 551.4,197.3 551.7,206.3 552.0,193.3 552.3,194.7 552.6,196.4 552.9,180.2 553.2,188.5 553.5,193.4 553.9,182.9 554.2,190.5 554.5,197.3 554.8,186.7 555.1,194.1 555.4,200.7 555.7,199.6 556.0,197.2 556.3,190.6 556.6,186.5 556.9,200.4 557.2,189.5 557.5,197.7 557.8,199.4 558.1,213.3 558.4,190.8 558.7,189.3 559.0,193.6 559.4,195.5 559.7,188.8 560.0,192.1 560.3,210.6 560.6,197.9 560.9,196.0 561.2,194.8 561.5,195.1 561.8,189.6 562.1,198.0 562.4,182.0 562.7,189.6 563.0,197.7 563.3,195.8 563.6,205.7 563.9,198.4 564.2,199.9 564.5,201.7 564.9,191.8 565.2,192.3 565.5,199.3 565.8,199.0 566.1,193.0 566.4,179.5 566.7,190.7 567.0,194.5 567.3,192.0 567.6,201.5 567.9,197.6 568.2,191.5 568.5,191.3 568.8,191.3 569.1,200.9 569.4,195.9 569.7,185.9 570.0,177.4 570.4,183.6 570.7,194.8 571.0,197.7 571.3,196.7 571.6,182.5 571.9,198.9 572.2,197.2 572.5,205.4 572.8,200.0 573.1,197.8 573.4,189.5 573.7,187.4 574.0,190.1 574.3,194.4 574.6,196.8 574.9,185.0 575.2,192.2 575.5,201.2 575.9,201.8 576.2,197.5 576.5,201.3 576.8,207.6 577.1,193.6 577.4,199.2 577.7,197.1 578.0,195.6 578.3,197.5 578.6,197.5 578.9,211.4 579.2,199.1 579.5,197.5 579.8,197.8 580.1,195.0 580.4,180.9 580.7,179.9 581.0,184.7 581.4,181.0 581.7,192.5 582.0,192.9 582.3,189.6 582.6,185.8 582.9,185.8 583.2,179.5 583.5,189.0 583.8,182.8 584.1,192.8 584.4,188.8 584.7,196.3 585.0,185.3 585.3,192.5 585.6,183.3 585.9,200.8 586.2,182.6 586.5,189.1 586.9,188.4 587.2,189.0 587.5,201.8 587.8,199.7 588.1,199.0 588.4,195.7 588.7,203.7 589.0,200.1 589.3,193.5 589.6,185.5 589.9,184.3 590.2,195.7 590.5,186.6 590.8,180.4 591.1,183.7 591.4,191.1 591.7,196.3 592.0,195.2 592.4,181.9 592.7,193.6 593.0,206.3 593.3,189.9 593.6,194.5 593.9,192.2 594.2,193.2 594.5,183.8 594.8,190.5 595.1,194.2 595.4,195.7 595.7,180.3 596.0,176.6 596.3,186.3 596.6,190.2 596.9,189.0 597.2,184.6 597.5,191.8 597.9,179.4 598.2,183.2 598.5,202.1 598.8,198.4 599.1,193.0 599.4,174.6 599.7,172.8 600.0,180.8 600.3,191.3 600.6,187.7 600.9,186.1 601.2,187.7 601.5,185.0 601.8,181.0 602.1,187.5 602.4,193.2 602.7,187.4 603.0,196.3 603.4,192.6 603.7,181.8 604.0,184.4 604.3,194.4 604.6,189.1 604.9,190.3 605.2,188.5 605.5,182.1 605.8,189.3 606.1,196.0 606.4,180.6 606.7,190.6 607.0,184.5 607.3,183.5 607.6,187.6 607.9,183.3 608.2,183.3 608.5,183.7 608.9,180.4 609.2,188.0 609.5,179.5 609.8,187.8 610.1,178.6 610.4,173.9 610.7,185.3 611.0,171.5 611.3,183.3 611.6,183.0 611.9,187.1 612.2,185.4 612.5,183.0 612.8,186.2 613.1,178.2 613.4,186.5 613.7,181.7 614.0,189.0 614.4,190.1 614.7,184.1 615.0,180.7 615.3,183.8 615.6,180.5 615.9,180.2 616.2,186.8 616.5,184.1 616.8,188.9 617.1,193.4 617.4,190.0 617.7,187.2 618.0,177.8 618.3,178.7 618.6,181.7 618.9,196.4 619.2,193.2 619.5,184.2 619.9,181.0 620.2,183.7 620.5,192.0 620.8,198.5 621.1,198.9 621.4,188.2 621.7,184.0 622.0,174.2 622.3,185.6 622.6,183.2 622.9,188.9 623.2,187.0 623.5,184.9 623.8,188.4 624.1,177.3 624.4,189.9 624.7,181.8 625.0,186.1 625.4,188.5 625.7,180.2 626.0,187.6 626.3,183.9 626.6,185.2 626.9,181.1 627.2,191.5 627.5,185.5 627.8,182.2 628.1,188.1 628.4,191.9 628.7,193.5 629.0,187.6 629.3,190.5 629.6,183.3 629.9,185.1 630.2,187.1 630.5,186.7 630.9,185.7 631.2,185.1 631.5,181.6 631.8,178.3 632.1,181.2 632.4,181.1 632.7,175.1 633.0,172.9 633.3,181.0 633.6,190.4 633.9,179.2 634.2,188.5 634.5,191.8 634.8,192.6 635.1,190.1 635.4,201.3 635.7,193.5 636.0,181.1 636.4,169.0 636.7,177.6 637.0,178.1 637.3,178.2 637.6,187.0 637.9,191.7 638.2,185.5 638.5,178.4 638.8,182.6 639.1,182.1 639.4,183.7 639.7,185.7 640.0,189.0 640.3,179.8 640.6,178.6 640.9,183.9 641.2,182.3 641.5,180.2 641.9,176.2 642.2,170.1 642.5,169.7 642.8,179.8 643.1,181.3 643.4,184.4 643.7,179.0 644.0,175.2 644.3,190.4 644.6,185.2 644.9,175.6 645.2,190.2 645.5,176.3 645.8,175.1 646.1,184.4 646.4,190.4 646.7,176.4 647.0,184.8 647.4,192.3 647.7,186.8 648.0,193.5 648.3,193.3 648.6,176.4 648.9,184.9 649.2,185.8 649.5,195.0 649.8,193.2 650.1,181.6 650.4,181.9 650.7,177.9 651.0,176.7 651.3,180.7 651.6,186.4 651.9,198.3 652.2,182.9 652.5,184.3 652.9,170.1 653.2,181.4 653.5,184.6 653.8,187.7 654.1,193.4 654.4,187.0 654.7,183.6 655.0,182.9 655.3,185.5 655.6,189.5 655.9,178.8 656.2,177.4 656.5,186.3 656.8,193.7 657.1,191.7 657.4,191.1 657.7,180.4 658.0,187.7 658.4,183.8 658.7,190.4 659.0,187.2 659.3,169.8 659.6,183.9 659.9,181.5 660.2,186.4 660.5,178.3 660.8,180.4 661.1,183.7 661.4,175.3 661.7,176.9 662.0,178.2 662.3,190.2 662.6,191.8 662.9,178.3 663.2,189.7 663.5,175.9 663.9,172.2 664.2,182.1 664.5,188.9 664.8,192.7 665.1,182.3 665.4,180.4 665.7,188.0 666.0,192.5 666.3,184.6 666.6,189.3 666.9,186.4 667.2,195.2 667.5,185.5 667.8,184.6 668.1,187.8 668.4,193.8 668.7,189.0 669.0,184.8 669.4,183.6 669.7,185.5 670.0,191.1 670.3,183.8 670.6,178.8 670.9,187.9 671.2,194.4 671.5,180.1 671.8,183.0 672.1,196.3 672.4,184.4 672.7,184.2 673.0,189.3 673.3,186.1 673.6,192.0 673.9,191.9 674.2,196.1 674.5,180.1 674.9,185.9 675.2,182.7 675.5,181.9 675.8,198.2 676.1,187.1 676.4,191.4 676.7,178.9 677.0,189.3 677.3,179.8 677.6,172.1 677.9,178.9 678.2,176.0 678.5,173.5 678.8,180.5 679.1,185.2 679.4,192.8 679.7,176.2 680.0,176.2 680.4,178.3 680.7,192.8 681.0,180.6 681.3,186.3 681.6,184.2 681.9,182.5 682.2,176.8 682.5,184.4 682.8,188.8 683.1,182.2 683.4,182.1 683.7,187.9 684.0,173.0 684.3,175.3 684.6,192.4 684.9,201.0 685.2,201.5 685.5,192.7 685.9,184.5 686.2,175.1 686.5,181.7 686.8,188.1 687.1,184.5 687.4,184.1 687.7,190.3 688.0,186.0 688.3,196.2 688.6,189.9 688.9,183.8 689.2,185.8 689.5,181.3 689.8,176.2 690.1,178.0 690.4,178.1 690.7,178.0 691.0,183.6 691.4,178.6 691.7,181.6 692.0,189.3 692.3,179.7 692.6,182.6 692.9,199.8 693.2,179.4 693.5,183.5 693.8,189.3 694.1,181.4 694.4,181.8 694.7,182.5 695.0,174.4 695.3,176.2 695.6,184.8 695.9,190.3 696.2,195.7 696.5,187.9 696.9,186.7 697.2,181.3 697.5,184.7 697.8,183.2 698.1,178.8 698.4,187.8 698.7,193.3 699.0,189.1 699.3,195.2 699.6,190.2 699.9,188.7 700.2,178.9 700.5,185.8 700.8,178.7 701.1,186.6 701.4,186.5 701.7,188.9 702.0,187.3 702.4,189.6 702.7,193.9 703.0,196.8 703.3,184.7 703.6,184.9 703.9,176.2 704.2,174.3 704.5,189.0 704.8,175.9 705.1,185.5 705.4,195.7 705.7,196.3 706.0,192.5 706.3,202.4 706.6,188.1 706.9,188.1 707.2,182.3 707.5,182.8 707.9,184.1 708.2,181.0 708.5,181.6 708.8,192.9 709.1,178.4 709.4,185.7 709.7,184.5 710.0,179.8 710.3,187.0 710.6,188.2 710.9,196.1 711.2,184.0 711.5,180.1 711.8,185.0 712.1,188.6 712.4,200.8 712.7,186.4 713.0,190.7 713.4,189.6 713.7,188.5 714.0,188.0 714.3,184.6 714.6,180.7 714.9,181.8 715.2,190.2 715.5,186.4 715.8,185.4 716.1,189.8 716.4,187.4 716.7,180.0 717.0,177.9 717.3,178.5 717.6,177.9 717.9,192.8 718.2,185.2 718.5,175.0 718.9,182.5 719.2,184.5 719.5,187.3 719.8,182.0 720.1,181.9 720.4,187.8 720.7,183.0 721.0,182.0 721.3,180.4 721.6,179.9 721.9,186.6 722.2,181.6 722.5,182.7 722.8,182.8 723.1,184.8 723.4,182.7 723.7,186.1 724.0,190.4 724.4,178.7 724.7,189.4 725.0,183.7 725.3,179.4 725.6,181.3 725.9,184.2 726.2,184.0 726.5,191.0 726.8,182.6 727.1,187.3 727.4,184.2 727.7,187.5 728.0,178.8 728.3,183.1 728.6,182.4 728.9,173.9 729.2,185.6 729.5,185.0 729.9,196.0 730.2,188.2 730.5,187.0 730.8,187.3 731.1,179.4 731.4,171.0 731.7,172.5 732.0,172.7 732.3,171.2 732.6,179.9 732.9,183.7 733.2,178.9 733.5,168.9 733.8,179.5 734.1,187.4 734.4,181.1 734.7,173.6 735.0,173.8 735.4,175.5 735.7,178.9 736.0,175.4 736.3,180.5 736.6,173.1 736.9,170.6 737.2,172.0 737.5,166.5 737.8,162.4 738.1,179.7 738.4,181.2 738.7,186.8 739.0,191.7 739.3,190.5 739.6,185.5 739.9,179.4 740.2,178.6 740.5,195.8 740.9,186.2 741.2,190.3 741.5,181.3 741.8,187.3 742.1,178.2 742.4,171.8 742.7,168.2 743.0,179.4 743.3,180.9 743.6,184.6 743.9,183.8 744.2,172.8 744.5,190.2 744.8,188.1 745.1,183.9 745.4,185.7 745.7,191.4 746.0,179.5 746.4,182.9 746.7,185.5 747.0,192.3 747.3,187.4 747.6,179.7 747.9,183.6 748.2,177.1 748.5,183.5 748.8,188.8 749.1,184.8 749.4,188.4 749.7,192.9 750.0,182.1 750.3,177.0 750.6,170.8 750.9,189.9 751.2,179.0 751.5,177.1 751.9,180.6 752.2,179.8 752.5,178.6 752.8,179.0 753.1,179.2 753.4,184.7 753.7,173.6 754.0,181.5 754.3,176.9 754.6,183.9 754.9,184.3 755.2,185.3 755.5,183.4 755.8,176.3 756.1,191.7 756.4,179.8 756.7,187.8 757.0,172.2 757.4,185.6 757.7,183.1 758.0,179.3 758.3,191.0 758.6,184.7 758.9,182.6 759.2,180.5 759.5,182.5 759.8,188.5 760.1,195.2 760.4,189.0 760.7,186.3 761.0,185.0 761.3,177.7 761.6,179.9 761.9,191.6 762.2,189.1 762.5,177.5 762.9,176.8 763.2,180.0 763.5,184.2 763.8,177.5 764.1,186.8 764.4,188.4 764.7,177.8 765.0,192.8 765.3,180.1 765.6,185.8 765.9,181.6 766.2,185.7 766.5,196.4 766.8,185.6 767.1,189.0 767.4,186.2 767.7,182.3 768.0,183.1 768.4,183.1 768.7,179.9 769.0,191.6 769.3,175.2 769.6,192.2 769.9,189.6 770.2,187.2 770.5,189.9 770.8,183.2 771.1,188.6 771.4,187.2 771.7,171.3 772.0,184.6 772.3,171.4 772.6,190.7 772.9,184.2 773.2,184.6 773.5,181.1 773.9,197.8 774.2,201.6 774.5,186.0 774.8,181.0 775.1,180.8 775.4,187.7 775.7,183.6 776.0,183.6 776.3,189.4 776.6,175.7"/>
<rect x="57" y="344" width="320.8" height="4" fill="#000"/>
<rect x="437.9" y="345" width="338.7" height="3.9" fill="#707070"/>
<rect x="437.9" y="345.6" width="338.7" height="3.1" fill="url(#tk)"/>
</svg>
</body></html>
